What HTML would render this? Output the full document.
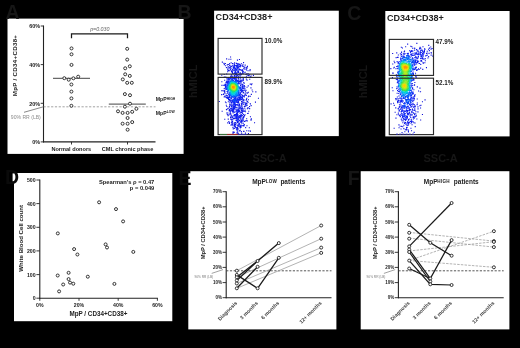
<!DOCTYPE html>
<html lang="en"><head><meta charset="utf-8"><title>Figure</title>
<style>
html,body{margin:0;padding:0;background:#000;}
body{width:520px;height:348px;overflow:hidden;}
svg{display:block;font-family:"Liberation Sans", Arial, sans-serif;filter:blur(0.4px);}
</style></head><body>
<svg width="520" height="348" viewBox="0 0 520 348">
<rect width="520" height="348" fill="#000"/>

<rect x="7.5" y="18.6" width="176.1" height="135.3" fill="#fff"/>
<rect x="214.1" y="10.7" width="124.7" height="125.4" fill="#fff"/>
<rect x="385.3" y="11" width="124.3" height="125.4" fill="#fff"/>
<rect x="14" y="173" width="158.3" height="148.2" fill="#fff"/>
<rect x="188.3" y="171.2" width="148.1" height="158.2" fill="#fff"/>
<rect x="360.7" y="171.2" width="148.7" height="158.2" fill="#fff"/>
<rect x="12.6" y="173.4" width="2" height="8" fill="#fff"/>
<text x="5.6" y="18.8" font-size="19.5" font-weight="bold" text-anchor="start" fill="#161616" >A</text>
<text x="177.5" y="19.3" font-size="19.5" font-weight="bold" text-anchor="start" fill="#161616" >B</text>
<text x="347.3" y="19.6" font-size="19.5" font-weight="bold" text-anchor="start" fill="#161616" >C</text>
<text x="4.9" y="183.9" font-size="19.5" font-weight="bold" text-anchor="start" fill="#0a0a0a" >D</text>
<text x="178.4" y="185.0" font-size="19.5" font-weight="bold" text-anchor="start" fill="#0a0a0a" >E</text>
<text x="347.8" y="184.6" font-size="19.5" font-weight="bold" text-anchor="start" fill="#161616" >F</text>
<g id="pa">
<line x1="43.5" y1="25.5" x2="43.5" y2="142.4" stroke="#222" stroke-width="1.1" />
<line x1="43.0" y1="141.9" x2="155.5" y2="141.9" stroke="#222" stroke-width="1.1" />
<line x1="40.7" y1="141.9" x2="43.5" y2="141.9" stroke="#222" stroke-width="0.9" />
<text x="40.1" y="144.1" font-size="5.4" font-weight="bold" text-anchor="end" fill="#222" >0%</text>
<line x1="40.7" y1="103.3" x2="43.5" y2="103.3" stroke="#222" stroke-width="0.9" />
<text x="40.1" y="105.5" font-size="5.4" font-weight="bold" text-anchor="end" fill="#222" >20%</text>
<line x1="40.7" y1="64.6" x2="43.5" y2="64.6" stroke="#222" stroke-width="0.9" />
<text x="40.1" y="66.8" font-size="5.4" font-weight="bold" text-anchor="end" fill="#222" >40%</text>
<line x1="40.7" y1="26.0" x2="43.5" y2="26.0" stroke="#222" stroke-width="0.9" />
<text x="40.1" y="28.2" font-size="5.4" font-weight="bold" text-anchor="end" fill="#222" >60%</text>
<line x1="71.5" y1="141.9" x2="71.5" y2="144.5" stroke="#222" stroke-width="0.9" />
<line x1="127.5" y1="141.9" x2="127.5" y2="144.5" stroke="#222" stroke-width="0.9" />
<text x="71.3" y="150.6" font-size="5.6" font-weight="bold" text-anchor="middle" fill="#222" >Normal donors</text>
<text x="127.5" y="150.6" font-size="5.6" font-weight="bold" text-anchor="middle" fill="#222" >CML chronic phase</text>
<text transform="translate(17.2,65.5) rotate(-90)" font-size="6.1" font-weight="bold" text-anchor="middle" fill="#222" letter-spacing="0.34">MpP / CD34+CD38+</text>
<line x1="43.5" y1="106.8" x2="155.5" y2="106.8" stroke="#8a8a8a" stroke-width="0.8" stroke-dasharray="2.2 1.6"/>
<text x="10.8" y="119.2" font-size="5.1" font-weight="normal" text-anchor="start" fill="#8c8c8c" >90% RR (LB)</text>
<line x1="24.0" y1="112.3" x2="43.0" y2="106.9" stroke="#555" stroke-width="0.7" />
<path d="M71.5 38.3V33.9H127.5V38.3" fill="none" stroke="#1a1a1a" stroke-width="1.25"/>
<text x="99.8" y="31.3" font-size="5.3" font-weight="normal" text-anchor="middle" fill="#666" font-style="italic">p=0.030</text>
<line x1="53.0" y1="78.3" x2="90.0" y2="78.3" stroke="#444" stroke-width="1" />
<line x1="108.8" y1="104.1" x2="145.8" y2="104.1" stroke="#444" stroke-width="1" />
<circle cx="71.5" cy="48.4" r="1.5" fill="#fff" stroke="#2a2a2a" stroke-width="0.95"/>
<circle cx="71.5" cy="54.3" r="1.5" fill="#fff" stroke="#2a2a2a" stroke-width="0.95"/>
<circle cx="71.5" cy="64.9" r="1.5" fill="#fff" stroke="#2a2a2a" stroke-width="0.95"/>
<circle cx="64.3" cy="78.2" r="1.5" fill="#fff" stroke="#2a2a2a" stroke-width="0.95"/>
<circle cx="68.7" cy="79.7" r="1.5" fill="#fff" stroke="#2a2a2a" stroke-width="0.95"/>
<circle cx="73.4" cy="78.3" r="1.5" fill="#fff" stroke="#2a2a2a" stroke-width="0.95"/>
<circle cx="78.2" cy="76.7" r="1.5" fill="#fff" stroke="#2a2a2a" stroke-width="0.95"/>
<circle cx="71.4" cy="84.5" r="1.5" fill="#fff" stroke="#2a2a2a" stroke-width="0.95"/>
<circle cx="71.4" cy="91.6" r="1.5" fill="#fff" stroke="#2a2a2a" stroke-width="0.95"/>
<circle cx="71.4" cy="98.4" r="1.5" fill="#fff" stroke="#2a2a2a" stroke-width="0.95"/>
<circle cx="71.4" cy="105.8" r="1.5" fill="#fff" stroke="#2a2a2a" stroke-width="0.95"/>
<circle cx="127.2" cy="48.8" r="1.5" fill="#fff" stroke="#2a2a2a" stroke-width="0.95"/>
<circle cx="127.2" cy="59.6" r="1.5" fill="#fff" stroke="#2a2a2a" stroke-width="0.95"/>
<circle cx="129.8" cy="66.3" r="1.5" fill="#fff" stroke="#2a2a2a" stroke-width="0.95"/>
<circle cx="125.2" cy="68.3" r="1.5" fill="#fff" stroke="#2a2a2a" stroke-width="0.95"/>
<circle cx="125.2" cy="74.3" r="1.5" fill="#fff" stroke="#2a2a2a" stroke-width="0.95"/>
<circle cx="129.8" cy="75.9" r="1.5" fill="#fff" stroke="#2a2a2a" stroke-width="0.95"/>
<circle cx="122.8" cy="79.4" r="1.5" fill="#fff" stroke="#2a2a2a" stroke-width="0.95"/>
<circle cx="127.2" cy="82.8" r="1.5" fill="#fff" stroke="#2a2a2a" stroke-width="0.95"/>
<circle cx="131.8" cy="82.8" r="1.5" fill="#fff" stroke="#2a2a2a" stroke-width="0.95"/>
<circle cx="124.9" cy="94.1" r="1.5" fill="#fff" stroke="#2a2a2a" stroke-width="0.95"/>
<circle cx="130.0" cy="95.2" r="1.5" fill="#fff" stroke="#2a2a2a" stroke-width="0.95"/>
<circle cx="130.0" cy="103.7" r="1.5" fill="#fff" stroke="#2a2a2a" stroke-width="0.95"/>
<circle cx="124.9" cy="106.7" r="1.5" fill="#fff" stroke="#2a2a2a" stroke-width="0.95"/>
<circle cx="136.4" cy="108.8" r="1.5" fill="#fff" stroke="#2a2a2a" stroke-width="0.95"/>
<circle cx="118.0" cy="111.3" r="1.5" fill="#fff" stroke="#2a2a2a" stroke-width="0.95"/>
<circle cx="122.6" cy="112.9" r="1.5" fill="#fff" stroke="#2a2a2a" stroke-width="0.95"/>
<circle cx="127.6" cy="112.9" r="1.5" fill="#fff" stroke="#2a2a2a" stroke-width="0.95"/>
<circle cx="132.2" cy="111.8" r="1.5" fill="#fff" stroke="#2a2a2a" stroke-width="0.95"/>
<circle cx="127.6" cy="118.0" r="1.5" fill="#fff" stroke="#2a2a2a" stroke-width="0.95"/>
<circle cx="122.6" cy="123.7" r="1.5" fill="#fff" stroke="#2a2a2a" stroke-width="0.95"/>
<circle cx="127.6" cy="123.7" r="1.5" fill="#fff" stroke="#2a2a2a" stroke-width="0.95"/>
<circle cx="132.2" cy="122.1" r="1.5" fill="#fff" stroke="#2a2a2a" stroke-width="0.95"/>
<circle cx="127.6" cy="129.7" r="1.5" fill="#fff" stroke="#2a2a2a" stroke-width="0.95"/>
<text x="155.8" y="101.2" font-size="5.2" font-weight="bold" fill="#222">MpP<tspan font-size="3.4" dy="-1.6">HIGH</tspan></text>
<text x="155.8" y="115" font-size="5.2" font-weight="bold" fill="#222">MpP<tspan font-size="3.4" dy="-1.6">LOW</tspan></text>
</g>
<g id="pb">
<text x="215.6" y="20.3" font-size="9.05" font-weight="bold" text-anchor="start" fill="#222" >CD34+CD38+</text>
<path d="M257.9 98.3h1.1M254.9 102.1h1.1M221.6 111.2h1.1M254.0 122.8h1.1M224.2 119.2h1.1M255.3 91.9h1.1M248.8 127.8h1.1M221.3 81.7h1.1M226.1 58.9h1.1M252.9 75.4h1.1M221.2 75.2h1.1M238.9 59.5h1.1M250.8 94.4h1.1M249.2 79.2h1.1M249.9 116.8h1.1M250.4 87.9h1.1M218.8 101.5h1.1M236.9 60.1h1.1M247.9 133.5h1.1M226.1 74.0h1.1M252.2 91.7h1.1M230.0 57.0h1.1M244.9 133.1h1.1M221.8 62.1h1.1M227.7 119.1h1.1M251.6 90.0h1.1M246.4 125.8h1.1M223.7 74.5h1.1M249.9 131.1h1.1M228.4 59.3h1.1M230.3 59.2h1.1" stroke="rgb(15,15,215)" stroke-width="1.1" fill="none"/>
<path d="M243.0 62.6h1.1M221.4 85.4h1.1M247.7 85.9h1.1M246.2 130.8h1.1M221.1 94.6h1.1M248.2 111.2h1.1M241.1 133.3h1.1M245.1 127.6h1.1M221.1 90.7h1.1M248.3 130.9h1.1M246.1 118.7h1.1M224.9 102.0h1.1M247.1 113.5h1.1M246.5 80.1h1.1M246.7 120.9h1.1M227.2 122.9h1.1M225.6 102.8h1.1M249.6 69.6h1.1M225.8 105.2h1.1M247.7 113.2h1.1M230.6 62.8h1.1M250.6 105.6h1.1M249.4 70.7h1.1M246.5 87.2h1.1M223.8 77.1h1.1M249.6 96.4h1.1M225.9 109.6h1.1M226.2 113.0h1.1M224.1 80.2h1.1M247.5 70.8h1.1M250.5 120.1h1.1M223.4 63.4h1.1M250.7 76.0h1.1M249.7 76.9h1.1M227.5 115.6h1.1M251.4 83.7h1.1M243.4 131.4h1.1M226.3 106.5h1.1M240.8 131.6h1.1M245.8 79.0h1.1M247.8 92.3h1.1M243.0 131.3h1.1M244.6 65.1h1.1M246.7 77.5h1.1M249.9 103.9h1.1M247.9 99.8h1.1M224.8 63.5h1.1M249.7 103.8h1.1M232.7 128.9h1.1M223.8 64.6h1.1M250.8 118.9h1.1M250.4 119.8h1.1M225.0 65.8h1.1M251.0 84.8h1.1M243.7 83.1h1.1M246.9 66.4h1.1M226.8 114.5h1.1M232.3 133.1h1.1M249.7 84.1h1.1M249.1 108.6h1.1M249.0 106.5h1.1M232.6 131.7h1.1M229.1 63.6h1.1M232.8 132.9h1.1M233.9 132.2h1.1M247.8 96.8h1.1M248.1 96.1h1.1M246.8 108.7h1.1M245.4 74.4h1.1M246.0 76.2h1.1M228.3 121.6h1.1M246.3 98.2h1.1M228.9 123.4h1.1M249.8 84.0h1.1M227.1 71.8h1.1M247.3 92.8h1.1M244.5 114.7h1.1M244.7 72.2h1.1M246.0 69.9h1.1M245.5 120.6h1.1M234.1 62.9h1.1M244.6 77.4h1.1M242.4 64.9h1.1M249.1 74.9h1.1M231.9 63.6h1.1M222.3 90.8h1.1M238.0 133.3h1.1M248.2 108.0h1.1M226.8 109.0h1.1M227.3 113.0h1.1M241.0 63.7h1.1M247.3 107.7h1.1M223.7 96.9h1.1M244.3 121.4h1.1M223.1 94.5h1.1M222.8 94.5h1.1M245.4 90.4h1.1M246.4 73.9h1.1M236.8 134.0h1.1M230.5 125.1h1.1M247.7 73.9h1.1M236.5 132.9h1.1M243.0 82.8h1.1M228.5 114.6h1.1M225.9 67.5h1.1M248.1 75.6h1.1M229.1 122.7h1.1M246.2 68.4h1.1M247.4 75.5h1.1M227.6 108.4h1.1M226.8 64.9h1.1M246.6 67.7h1.1M232.4 127.4h1.1M247.6 102.2h1.1M223.7 88.5h1.1M239.7 130.3h1.1M245.0 111.7h1.1M244.3 108.2h1.1M246.7 93.3h1.1M227.8 64.5h1.1M225.2 77.0h1.1M243.7 121.5h1.1M227.8 101.8h1.1M236.8 132.1h1.1M243.2 66.5h1.1M245.8 95.4h1.1M245.0 91.3h1.1M241.9 66.1h1.1M229.0 104.3h1.1M223.5 93.5h1.1M239.2 130.7h1.1M233.8 128.4h1.1M245.4 92.7h1.1M246.7 105.2h1.1M238.5 131.0h1.1M223.7 90.3h1.1M244.5 69.1h1.1M245.5 67.4h1.1M243.8 106.6h1.1M225.4 93.8h1.1M230.1 119.1h1.1M246.9 101.4h1.1M229.1 65.4h1.1M245.9 99.4h1.1M224.2 92.5h1.1M244.0 115.6h1.1M226.3 67.7h1.1M243.7 67.4h1.1M227.1 70.0h1.1M230.9 74.8h1.1M230.2 113.7h1.1M236.8 130.7h1.1M233.4 63.7h1.1M244.8 106.2h1.1M230.3 114.6h1.1M229.5 113.4h1.1M223.7 91.4h1.1M242.3 77.2h1.1M229.0 106.2h1.1M245.6 100.2h1.1M245.7 100.3h1.1M242.8 123.3h1.1M244.5 93.8h1.1M246.3 102.0h1.1M243.4 68.8h1.1M235.9 129.8h1.1M245.8 105.7h1.1M224.4 96.1h1.1M243.1 68.8h1.1M228.8 107.1h1.1M224.3 91.1h1.1M230.0 117.4h1.1M243.1 92.4h1.1M230.6 119.1h1.1M228.1 70.6h1.1M227.9 70.6h1.1M242.7 92.9h1.1M242.2 80.9h1.1M231.1 119.9h1.1M228.8 70.8h1.1M236.0 63.4h1.1M240.3 77.4h1.1M243.7 124.5h1.1" stroke="rgb(15,20,222)" stroke-width="1.1" fill="none"/>
<path d="M237.9 129.0h1.1M242.9 80.3h1.1M246.3 103.6h1.1M227.6 66.7h1.1M244.4 88.9h1.1M244.9 94.7h1.1M228.6 110.7h1.1M236.7 129.5h1.1M242.5 77.8h1.1M243.6 72.7h1.1M243.0 114.6h1.1M243.2 126.0h1.1M229.6 105.5h1.1M227.3 69.2h1.1M244.6 110.1h1.1M244.6 110.2h1.1M242.7 78.0h1.1M244.3 95.0h1.1M244.4 95.1h1.1M243.7 111.5h1.1M227.5 68.7h1.1M232.4 119.8h1.1M239.9 77.2h1.1M226.0 77.7h1.1M243.3 100.9h1.1M243.3 99.6h1.1M243.8 90.2h1.1M242.6 73.8h1.1M230.3 66.1h1.1M229.3 102.7h1.1M243.5 116.9h1.1M244.3 86.7h1.1M242.7 78.6h1.1M231.7 119.9h1.1M244.7 105.3h1.1M243.7 96.9h1.1M231.4 121.6h1.1M232.0 121.5h1.1M230.4 116.3h1.1M240.1 78.8h1.1M244.1 102.7h1.1M231.1 122.5h1.1M226.1 95.2h1.1M245.7 104.1h1.1M229.8 69.6h1.1M242.8 120.0h1.1M227.8 66.9h1.1M235.7 63.8h1.1M229.8 112.3h1.1M231.5 124.7h1.1M245.1 103.0h1.1M232.1 73.5h1.1M225.5 95.8h1.1M242.7 100.8h1.1M231.3 75.8h1.1M245.5 103.5h1.1M243.5 125.7h1.1M242.4 79.9h1.1M242.7 79.4h1.1M241.3 123.3h1.1M241.4 123.1h1.1M243.6 95.9h1.1M243.8 85.5h1.1M232.6 113.0h1.1M244.7 104.2h1.1M241.0 101.5h1.1M229.0 67.9h1.1M242.8 118.2h1.1M243.5 125.3h1.1M230.3 76.0h1.1M231.3 124.4h1.1M239.5 64.3h1.1M228.8 67.7h1.1M229.5 67.0h1.1M231.2 71.9h1.1M230.5 68.8h1.1M240.7 74.8h1.1M240.9 74.4h1.1M240.3 69.7h1.1M234.6 122.8h1.1M231.5 123.4h1.1M241.5 101.8h1.1M242.7 102.6h1.1M223.3 85.4h1.1M236.9 128.4h1.1M231.7 122.5h1.1M234.7 127.8h1.1M241.7 101.0h1.1M231.9 65.7h1.1M242.4 120.7h1.1M230.8 66.5h1.1M243.1 125.5h1.1M242.9 125.6h1.1M230.2 67.9h1.1M243.7 88.0h1.1M228.8 109.6h1.1M242.1 113.6h1.1M242.9 117.1h1.1M243.2 116.6h1.1M242.5 119.9h1.1M242.0 69.7h1.1M229.5 111.2h1.1M239.4 69.6h1.1M231.2 115.6h1.1M230.8 76.2h1.1M231.0 71.4h1.1M239.7 127.9h1.1M232.8 118.5h1.1M243.0 104.2h1.1M243.0 104.2h1.1M230.3 104.4h1.1M240.5 70.1h1.1M231.9 72.8h1.1M235.2 122.6h1.1M239.5 75.8h1.1M230.7 70.8h1.1M243.0 71.2h1.1M242.8 71.2h1.1M235.6 123.3h1.1M231.9 124.0h1.1M240.5 65.8h1.1M238.2 63.8h1.1M242.1 73.4h1.1M236.6 125.1h1.1M231.6 71.6h1.1M236.0 128.3h1.1M231.2 117.2h1.1M242.1 125.8h1.1M233.7 122.9h1.1M233.8 64.6h1.1M242.4 84.7h1.1M225.3 97.1h1.1M238.2 76.2h1.1M232.3 125.2h1.1M234.3 112.2h1.1M231.9 72.2h1.1M236.4 128.0h1.1M241.1 70.3h1.1M233.5 76.3h1.1M228.0 99.6h1.1M235.5 127.6h1.1M229.5 110.5h1.1M236.2 107.5h1.1M236.5 107.8h1.1M239.5 75.2h1.1M228.7 100.0h1.1M236.9 63.8h1.1M236.8 127.6h1.1M242.2 72.1h1.1M242.1 72.7h1.1M237.3 127.0h1.1M243.3 110.8h1.1M238.0 77.2h1.1M240.8 103.3h1.1M243.1 90.7h1.1M241.0 125.3h1.1M240.3 83.3h1.1M240.5 82.9h1.1M237.7 77.4h1.1M240.6 122.4h1.1M233.6 112.1h1.1M241.5 106.3h1.1M225.0 89.0h1.1M233.9 75.5h1.1M229.4 101.2h1.1M229.3 109.7h1.1M242.0 118.3h1.1M242.0 118.1h1.1M241.5 121.5h1.1M238.2 78.4h1.1M238.0 74.6h1.1M241.4 119.9h1.1M242.4 108.6h1.1M241.6 103.1h1.1M231.7 117.3h1.1M240.4 84.7h1.1M231.8 117.7h1.1M240.6 73.9h1.1M239.4 113.2h1.1M240.6 126.9h1.1M240.6 127.1h1.1M240.3 127.3h1.1M241.7 84.4h1.1M239.3 74.5h1.1M232.7 73.7h1.1M241.8 107.8h1.1M232.6 70.6h1.1M231.8 76.9h1.1M237.3 77.8h1.1M241.7 71.0h1.1M241.9 70.5h1.1M241.8 70.5h1.1M241.2 105.1h1.1M241.3 104.9h1.1M242.3 99.0h1.1M240.7 80.7h1.1M235.0 124.4h1.1M241.0 81.1h1.1M235.5 109.4h1.1M241.8 115.6h1.1M239.5 73.1h1.1M239.6 72.9h1.1M229.7 108.9h1.1M226.5 78.3h1.1M234.5 126.5h1.1M239.8 73.1h1.1M226.7 95.6h1.1M225.9 97.8h1.1M226.2 97.6h1.1M240.5 80.1h1.1M231.9 69.9h1.1M238.1 78.8h1.1M234.1 76.8h1.1M239.3 73.9h1.1M235.7 76.8h1.1M229.0 100.3h1.1M234.9 126.1h1.1M242.2 111.5h1.1M239.7 66.8h1.1M237.6 125.8h1.1M232.1 116.9h1.1M241.7 112.2h1.1M237.0 122.5h1.1M237.5 125.2h1.1M230.6 111.0h1.1M238.5 69.9h1.1M243.2 110.9h1.1M236.4 76.2h1.1M226.5 91.5h1.1M227.3 93.4h1.1M233.4 124.0h1.1M241.5 104.0h1.1M241.9 108.3h1.1M241.2 104.1h1.1M237.8 126.3h1.1M239.8 65.4h1.1M232.2 69.2h1.1M240.3 118.6h1.1M239.9 112.8h1.1M231.2 105.7h1.1M240.8 112.5h1.1M241.2 112.6h1.1M241.0 104.8h1.1M225.5 82.4h1.1M233.9 124.2h1.1M235.4 111.3h1.1M243.3 86.3h1.1M243.7 86.1h1.1M239.7 100.0h1.1M242.6 96.1h1.1M230.7 102.0h1.1M239.8 122.0h1.1M235.5 120.3h1.1M232.5 117.0h1.1M235.5 76.4h1.1M233.8 126.2h1.1M242.4 109.5h1.1M239.0 104.1h1.1M238.9 104.1h1.1M224.2 85.0h1.1M233.7 125.8h1.1M239.7 125.2h1.1M229.1 99.6h1.1M240.2 126.6h1.1M240.4 126.8h1.1M242.8 88.7h1.1M230.4 108.3h1.1M231.6 104.3h1.1M241.9 95.4h1.1M237.3 122.7h1.1M240.6 120.2h1.1M233.7 118.2h1.1M232.6 66.2h1.1M239.0 123.9h1.1M240.9 121.1h1.1M236.8 75.4h1.1M240.0 85.4h1.1M238.1 123.0h1.1M239.3 105.6h1.1M239.2 126.6h1.1M238.7 64.8h1.1M240.2 121.8h1.1M238.6 123.3h1.1M237.9 72.4h1.1M227.0 92.0h1.1M242.1 111.6h1.1M238.8 105.1h1.1M234.3 118.6h1.1M229.9 100.9h1.1M229.5 99.6h1.1M238.5 68.8h1.1M238.0 71.5h1.1M238.0 71.7h1.1M239.0 124.2h1.1M230.9 102.6h1.1M241.4 115.5h1.1M234.2 125.8h1.1M234.0 125.5h1.1M234.1 125.4h1.1M240.7 114.5h1.1" stroke="rgb(15,25,230)" stroke-width="1.1" fill="none"/>
<path d="M238.6 106.6h1.1M230.9 106.5h1.1M230.8 106.6h1.1M230.0 76.9h1.1M239.6 119.2h1.1M235.8 120.6h1.1M236.0 120.7h1.1M224.8 87.9h1.1M240.6 121.2h1.1M235.2 107.4h1.1M238.2 124.4h1.1M226.1 81.6h1.1M241.8 99.2h1.1M242.8 88.3h1.1M238.3 79.9h1.1M231.9 111.8h1.1M232.0 111.7h1.1M233.7 73.4h1.1M237.7 105.7h1.1M237.5 105.6h1.1M232.6 111.6h1.1M232.5 111.9h1.1M240.5 106.7h1.1M240.5 106.6h1.1M233.1 111.1h1.1M241.0 99.5h1.1M227.1 98.4h1.1M226.2 97.8h1.1M241.0 94.8h1.1M238.4 124.5h1.1M238.2 125.2h1.1M239.6 125.6h1.1M234.3 108.7h1.1M233.5 65.5h1.1M236.7 109.3h1.1M235.8 110.7h1.1M239.2 120.6h1.1M233.6 69.9h1.1M236.8 121.4h1.1M233.5 109.7h1.1M242.2 110.4h1.1M231.4 105.6h1.1M240.3 99.6h1.1M231.3 102.9h1.1M238.4 107.5h1.1M239.7 80.9h1.1M239.9 80.9h1.1M226.6 79.9h1.1M235.8 111.0h1.1M234.2 114.6h1.1M239.2 66.5h1.1M239.3 66.6h1.1M233.6 115.1h1.1M234.4 118.1h1.1M226.7 80.3h1.1M226.5 80.2h1.1M238.9 100.3h1.1M238.7 120.6h1.1M237.7 104.8h1.1M234.1 70.9h1.1M236.6 105.0h1.1M236.2 105.0h1.1M237.5 121.5h1.1M241.1 111.1h1.1M230.9 108.3h1.1M238.5 108.0h1.1M241.0 110.2h1.1M240.9 110.6h1.1M239.5 111.8h1.1M240.2 115.1h1.1M242.4 85.9h1.1M236.0 113.3h1.1M240.8 109.0h1.1M239.3 83.0h1.1M240.7 115.5h1.1M228.1 77.5h1.1M237.3 114.2h1.1M224.8 84.1h1.1M240.4 109.7h1.1M239.5 66.3h1.1M231.0 110.1h1.1M241.1 108.5h1.1M234.6 65.6h1.1M234.6 65.8h1.1M227.2 97.7h1.1M227.8 98.0h1.1M228.0 98.4h1.1M237.2 104.8h1.1M237.9 102.8h1.1M238.1 102.6h1.1M240.2 81.8h1.1M240.4 107.7h1.1M231.5 110.4h1.1M238.5 108.8h1.1M233.6 115.7h1.1M233.3 115.6h1.1M233.4 115.6h1.1M236.0 75.0h1.1M239.7 107.7h1.1M227.0 97.0h1.1M241.7 91.6h1.1M237.9 102.2h1.1M237.8 121.0h1.1M237.8 121.2h1.1M240.7 116.4h1.1M236.4 104.5h1.1M231.0 100.3h1.1M236.8 113.3h1.1M240.4 108.1h1.1M235.4 75.1h1.1M226.1 82.7h1.1M239.4 108.2h1.1M232.4 77.7h1.1M237.2 120.9h1.1M235.9 113.5h1.1M232.0 110.9h1.1M241.9 85.7h1.1M237.8 109.0h1.1M232.5 110.1h1.1M238.0 101.5h1.1M236.8 112.9h1.1M227.6 97.5h1.1M230.7 98.8h1.1M236.4 110.5h1.1M234.0 114.9h1.1M237.4 70.4h1.1M237.3 114.8h1.1M239.1 99.8h1.1M224.4 85.4h1.1M236.4 111.9h1.1M238.4 99.9h1.1M240.5 117.3h1.1M240.5 117.1h1.1M232.6 67.7h1.1M228.0 97.5h1.1M229.0 97.7h1.1M237.5 103.2h1.1M239.3 117.6h1.1M242.0 90.8h1.1M224.6 85.4h1.1M236.4 120.0h1.1M234.8 118.3h1.1M235.0 105.9h1.1M237.6 112.1h1.1M237.2 72.8h1.1M237.2 72.7h1.1M238.5 111.6h1.1M236.8 112.2h1.1M237.5 70.1h1.1M235.1 114.5h1.1M231.6 109.2h1.1M233.9 115.6h1.1M241.8 98.1h1.1M237.3 64.5h1.1M237.6 64.4h1.1M231.3 108.8h1.1M239.0 111.0h1.1M238.9 111.3h1.1M233.1 66.7h1.1M236.2 78.9h1.1M237.2 71.5h1.1M232.8 109.1h1.1M237.5 102.9h1.1M239.1 66.5h1.1M238.7 83.8h1.1M231.3 102.3h1.1M242.1 90.3h1.1M230.3 98.2h1.1M236.3 114.1h1.1M238.7 110.3h1.1M236.5 74.2h1.1M239.0 99.1h1.1M237.7 119.5h1.1M237.8 119.4h1.1M238.3 109.5h1.1M238.4 97.9h1.1M239.5 81.3h1.1M240.0 117.0h1.1M235.6 104.7h1.1M234.5 66.0h1.1M234.2 108.1h1.1M234.1 108.4h1.1M239.2 115.5h1.1M239.5 115.7h1.1M234.3 106.1h1.1M241.9 96.9h1.1M235.4 114.9h1.1M238.4 117.6h1.1M233.6 69.3h1.1M238.0 118.8h1.1M242.4 87.4h1.1M225.5 84.3h1.1M228.4 96.3h1.1M235.8 65.5h1.1M241.0 91.5h1.1M241.2 91.9h1.1M234.4 116.2h1.1M237.3 68.4h1.1M237.2 97.9h1.1M240.2 95.1h1.1M237.7 110.4h1.1M237.6 110.3h1.1M232.7 105.7h1.1M237.9 99.3h1.1M235.3 78.8h1.1M235.5 78.7h1.1M235.5 74.6h1.1M237.7 67.4h1.1M232.8 78.1h1.1M231.7 101.5h1.1M239.7 116.7h1.1M241.9 88.3h1.1M231.1 98.2h1.1M241.5 86.1h1.1M241.5 86.1h1.1M238.3 117.1h1.1M235.6 118.3h1.1M225.0 86.5h1.1M238.5 110.7h1.1M233.8 107.6h1.1M237.5 115.8h1.1M239.1 115.9h1.1M239.7 98.4h1.1M225.8 89.4h1.1M238.2 111.1h1.1M237.4 111.0h1.1M239.4 116.2h1.1M233.0 68.3h1.1M229.3 97.3h1.1M236.5 119.3h1.1M238.2 116.7h1.1M235.0 70.7h1.1M237.3 118.7h1.1M236.1 118.7h1.1M234.9 116.0h1.1M235.1 71.8h1.1M236.3 102.5h1.1M236.6 72.8h1.1M234.8 104.5h1.1M233.0 67.5h1.1M233.9 106.5h1.1M236.3 115.0h1.1M237.5 116.1h1.1M225.2 85.1h1.1M241.8 86.5h1.1M242.1 86.5h1.1M241.6 96.7h1.1M237.4 117.1h1.1M237.1 102.1h1.1M234.6 73.5h1.1M239.0 97.0h1.1M233.9 66.7h1.1M234.4 105.1h1.1M235.4 117.4h1.1M234.3 72.9h1.1M234.5 72.6h1.1M226.6 82.8h1.1M236.0 66.7h1.1M233.0 105.7h1.1M236.6 65.8h1.1M237.5 65.2h1.1M237.5 65.3h1.1M236.2 118.8h1.1M237.6 100.6h1.1M241.4 90.8h1.1M224.9 86.3h1.1M224.8 86.0h1.1M228.2 78.0h1.1M227.8 78.2h1.1M238.2 96.7h1.1M234.8 74.3h1.1M237.2 99.5h1.1M241.4 98.1h1.1M241.3 98.2h1.1M234.1 78.4h1.1M234.2 78.9h1.1M239.9 93.1h1.1M225.2 87.5h1.1M238.0 67.1h1.1M238.5 66.3h1.1M240.2 92.8h1.1M236.5 115.4h1.1M236.3 115.8h1.1M232.5 108.3h1.1M232.6 108.1h1.1M234.7 73.3h1.1M232.7 106.1h1.1M233.4 78.7h1.1M233.3 78.7h1.1M241.5 86.8h1.1M236.5 118.4h1.1M231.7 78.3h1.1M233.1 108.1h1.1M235.3 70.8h1.1M229.1 96.2h1.1M236.8 99.3h1.1M233.1 104.2h1.1M232.6 107.1h1.1M232.3 107.1h1.1M236.1 116.1h1.1M236.4 98.6h1.1M236.1 117.3h1.1M232.2 100.0h1.1M235.9 116.7h1.1M227.5 78.7h1.1M227.6 78.8h1.1M236.8 67.6h1.1M236.8 67.8h1.1M236.4 68.0h1.1M236.3 117.1h1.1M236.8 101.8h1.1M226.9 81.7h1.1M239.5 97.7h1.1M236.6 66.1h1.1M233.7 107.2h1.1M228.3 94.7h1.1M235.8 73.5h1.1M233.3 68.0h1.1M235.2 72.2h1.1M235.6 79.1h1.1M239.0 81.6h1.1M240.2 94.9h1.1M241.5 88.8h1.1" stroke="rgb(15,30,237)" stroke-width="1.1" fill="none"/>
<path d="M235.1 68.1h1.1M235.6 70.1h1.1M235.3 70.2h1.1M233.8 67.3h1.1M234.8 69.3h1.1M236.8 65.4h1.1M227.4 91.8h1.1M233.0 107.4h1.1M233.7 104.4h1.1M233.3 104.9h1.1M241.7 87.5h1.1M236.3 69.0h1.1M236.5 69.2h1.1M236.2 69.8h1.1M236.3 69.5h1.1M234.7 78.9h1.1M237.0 99.6h1.1M236.1 70.1h1.1M235.1 73.9h1.1M235.1 73.6h1.1M233.9 78.9h1.1M233.8 104.7h1.1M235.3 69.4h1.1M234.1 68.0h1.1M233.9 68.2h1.1M231.8 100.6h1.1M232.6 99.6h1.1M233.9 67.8h1.1M233.8 67.7h1.1M226.7 83.9h1.1M240.2 98.3h1.1M227.0 82.4h1.1M225.4 85.3h1.1M236.7 66.9h1.1M236.7 100.5h1.1M235.6 73.8h1.1M231.7 101.0h1.1M237.7 80.6h1.1M228.3 94.4h1.1M237.5 66.0h1.1M237.3 66.2h1.1M239.9 96.5h1.1M235.4 72.9h1.1M241.1 90.8h1.1M240.1 97.3h1.1M239.2 95.6h1.1M240.9 97.1h1.1M241.0 97.5h1.1M240.7 97.8h1.1M240.8 97.5h1.1M234.4 103.7h1.1M235.8 79.9h1.1M225.4 85.5h1.1M226.1 88.5h1.1M240.2 97.3h1.1M239.4 95.1h1.1M233.3 103.4h1.1M233.3 103.7h1.1M232.3 102.2h1.1M230.4 97.1h1.1M233.4 98.2h1.1M227.5 81.6h1.1M239.7 93.0h1.1M239.6 92.9h1.1M235.4 101.9h1.1M235.2 98.8h1.1M235.8 101.9h1.1M239.7 93.7h1.1M228.9 95.1h1.1M234.3 103.3h1.1M234.6 103.2h1.1M241.1 89.4h1.1M240.7 90.6h1.1M233.6 103.2h1.1M234.1 98.1h1.1M230.9 78.8h1.1M232.4 101.6h1.1M228.2 80.0h1.1M228.5 78.8h1.1M227.9 79.1h1.1M233.9 98.6h1.1M236.2 99.8h1.1M239.0 95.0h1.1M234.7 98.6h1.1M231.9 79.0h1.1M234.8 97.4h1.1M239.5 91.0h1.1M240.0 90.8h1.1M229.2 95.7h1.1M236.2 80.4h1.1M230.2 78.7h1.1M229.8 78.8h1.1M229.7 78.4h1.1M229.4 78.7h1.1M229.7 78.8h1.1M225.9 86.3h1.1M239.9 87.1h1.1M233.2 102.7h1.1M233.4 102.5h1.1M228.2 81.9h1.1M236.0 100.7h1.1M227.4 82.5h1.1M235.2 97.3h1.1M235.7 97.1h1.1M226.9 84.1h1.1M227.1 84.1h1.1M238.8 94.4h1.1M238.8 94.5h1.1M237.2 80.9h1.1M237.0 80.6h1.1M240.5 89.8h1.1M240.5 89.6h1.1M233.9 99.0h1.1M234.8 99.4h1.1M228.6 79.1h1.1M237.8 81.5h1.1M237.9 81.9h1.1M237.8 81.6h1.1M228.3 80.1h1.1M238.3 95.1h1.1M233.3 99.8h1.1M228.6 79.7h1.1M228.5 79.7h1.1M240.2 90.4h1.1M231.2 97.0h1.1M231.5 97.2h1.1M231.5 97.2h1.1M234.9 97.1h1.1M232.7 80.3h1.1M227.6 83.1h1.1M237.9 82.3h1.1M237.7 82.4h1.1M228.5 81.1h1.1M228.4 81.4h1.1M235.6 101.2h1.1M229.0 79.1h1.1M234.3 102.2h1.1M236.3 80.7h1.1M230.9 79.0h1.1M238.1 83.6h1.1M237.8 83.5h1.1M235.0 80.4h1.1M233.2 97.4h1.1M235.2 100.1h1.1M232.1 79.8h1.1M233.1 101.1h1.1M235.5 80.9h1.1M240.1 87.9h1.1M235.8 80.8h1.1M230.6 79.1h1.1" stroke="rgb(15,35,245)" stroke-width="1.1" fill="none"/>
<path d="M235.3 100.4h1.1M229.1 94.1h1.1M233.8 99.5h1.1M237.4 95.8h1.1M228.6 92.2h1.1M228.7 92.2h1.1M240.1 89.1h1.1M239.9 89.2h1.1M238.1 95.2h1.1M240.0 87.9h1.1M227.0 85.2h1.1M230.9 96.9h1.1M239.9 88.6h1.1M234.4 101.7h1.1M231.6 79.8h1.1M236.6 96.2h1.1M238.5 93.9h1.1M238.5 92.5h1.1M226.5 86.7h1.1M236.4 81.4h1.1M238.3 93.7h1.1M233.7 100.6h1.1M233.3 100.6h1.1M237.6 82.0h1.1M237.5 82.0h1.1M233.2 101.3h1.1M235.8 81.0h1.1M234.0 100.1h1.1M226.2 87.4h1.1M231.2 79.6h1.1M234.6 100.3h1.1M239.4 87.8h1.1M237.1 81.4h1.1M233.0 80.5h1.1M234.0 96.6h1.1M233.7 96.6h1.1M227.1 85.8h1.1M239.5 89.2h1.1M234.6 101.3h1.1M234.2 101.0h1.1M228.1 83.2h1.1M231.4 96.5h1.1M233.8 101.4h1.1M236.8 95.6h1.1M234.6 100.7h1.1M233.8 100.6h1.1M239.3 88.9h1.1M235.7 96.2h1.1M233.9 81.2h1.1M227.1 89.7h1.1M238.9 87.2h1.1M232.0 96.9h1.1M231.9 96.5h1.1M231.8 96.7h1.1M229.8 95.4h1.1M231.5 80.3h1.1M238.0 93.4h1.1M235.4 96.2h1.1M239.1 89.0h1.1M232.4 80.6h1.1M238.4 90.9h1.1M233.3 81.2h1.1M237.8 92.4h1.1M239.1 87.8h1.1M238.9 87.8h1.1M239.0 87.8h1.1M238.7 87.5h1.1M238.2 92.1h1.1M236.4 95.8h1.1M234.3 96.4h1.1M235.0 81.6h1.1M227.5 90.1h1.1M227.7 90.0h1.1M237.6 94.7h1.1M228.8 82.2h1.1M233.9 96.3h1.1" stroke="rgb(9,71,246)" stroke-width="1.1" fill="none"/>
<path d="M227.8 90.6h1.1M227.9 90.8h1.1M231.2 96.0h1.1M231.4 96.3h1.1M231.3 96.3h1.1M234.7 81.4h1.1M237.3 93.9h1.1M236.0 82.0h1.1M233.2 96.4h1.1M233.0 96.3h1.1M236.0 95.8h1.1M229.9 94.7h1.1M229.8 94.9h1.1M226.8 88.7h1.1M230.6 80.5h1.1M230.6 80.4h1.1M237.3 93.2h1.1M227.2 87.4h1.1M229.2 93.5h1.1M227.8 84.6h1.1M238.7 87.1h1.1M238.4 87.0h1.1M226.7 88.1h1.1M227.1 88.2h1.1M229.9 81.4h1.1M229.9 81.1h1.1M233.8 81.7h1.1M237.9 91.0h1.1M237.3 92.7h1.1M227.6 86.3h1.1M230.9 80.7h1.1M236.8 94.7h1.1M235.1 95.7h1.1M228.3 83.8h1.1M236.3 95.3h1.1M236.7 95.0h1.1M236.4 94.9h1.1M238.4 88.4h1.1M227.3 89.6h1.1M237.7 86.3h1.1M238.1 90.8h1.1M229.7 92.9h1.1M229.3 82.1h1.1M233.7 95.5h1.1M236.8 83.8h1.1M237.1 83.7h1.1M236.9 83.7h1.1M236.9 83.6h1.1M227.3 86.8h1.1M229.9 94.1h1.1M229.8 94.3h1.1M235.7 82.9h1.1M230.2 81.1h1.1M235.8 95.3h1.1M228.1 90.2h1.1M228.1 90.1h1.1M238.0 90.3h1.1M237.8 90.3h1.1M237.7 91.5h1.1M232.8 95.4h1.1M230.8 95.3h1.1M229.5 92.8h1.1M229.2 92.9h1.1M228.7 84.1h1.1M228.9 83.2h1.1M229.2 83.1h1.1M231.8 81.2h1.1M234.3 82.1h1.1M227.7 85.5h1.1M237.4 85.0h1.1M235.3 94.9h1.1M227.4 87.2h1.1M227.3 89.1h1.1" stroke="rgb(3,108,248)" stroke-width="1.1" fill="none"/>
<path d="M230.8 81.1h1.1M234.3 95.2h1.1M234.4 95.1h1.1M229.6 92.4h1.1M229.6 92.1h1.1M236.3 94.2h1.1M236.3 94.3h1.1M235.5 82.6h1.1M229.6 82.5h1.1M236.5 93.6h1.1M236.2 94.5h1.1M227.3 87.7h1.1M228.3 84.7h1.1M228.2 84.7h1.1M231.3 95.1h1.1M227.6 88.6h1.1M238.0 87.1h1.1M227.5 88.1h1.1M236.3 92.6h1.1M236.5 92.5h1.1M230.6 81.6h1.1M230.4 81.8h1.1M235.7 94.4h1.1M235.4 94.6h1.1M235.9 83.0h1.1M230.6 94.4h1.1M235.9 94.3h1.1M232.8 95.0h1.1M234.9 82.6h1.1M237.3 85.8h1.1M228.1 89.5h1.1M227.7 89.9h1.1M227.8 89.6h1.1M237.1 91.4h1.1M237.6 90.6h1.1M230.0 92.9h1.1M232.5 95.1h1.1M234.7 94.9h1.1M233.2 82.1h1.1M233.6 82.2h1.1M235.8 93.3h1.1M235.9 92.9h1.1M236.0 93.2h1.1M236.5 92.2h1.1M235.3 94.2h1.1M232.1 81.7h1.1M231.9 81.7h1.1M237.0 84.5h1.1M230.8 81.8h1.1M229.6 91.4h1.1M229.7 92.6h1.1M235.2 93.9h1.1M231.7 81.6h1.1M231.5 81.5h1.1M231.7 94.7h1.1M230.5 93.6h1.1M230.4 93.6h1.1M237.5 89.6h1.1M237.4 89.8h1.1M228.1 87.2h1.1M227.9 87.3h1.1M236.9 91.1h1.1M237.0 91.0h1.1M229.9 92.0h1.1M229.7 92.1h1.1M234.6 94.0h1.1" stroke="rgb(0,146,245)" stroke-width="1.1" fill="none"/>
<path d="M235.9 92.0h1.1M235.3 92.6h1.1M232.4 94.5h1.1M232.5 94.6h1.1M232.3 94.5h1.1M232.3 94.8h1.1M232.3 94.7h1.1M236.0 83.8h1.1M236.1 83.9h1.1M237.5 88.8h1.1M234.0 94.0h1.1M233.9 94.1h1.1M229.1 84.6h1.1M229.1 84.5h1.1M227.8 88.7h1.1M234.8 93.3h1.1M230.2 92.9h1.1M228.4 86.2h1.1M228.3 86.2h1.1M237.0 85.1h1.1M231.3 94.4h1.1M237.7 87.1h1.1M231.0 82.4h1.1M230.9 93.8h1.1M231.1 93.7h1.1M230.9 93.6h1.1M235.8 91.7h1.1M232.1 82.0h1.1M234.5 93.2h1.1M229.8 83.3h1.1M230.0 83.2h1.1M230.0 83.0h1.1M236.6 91.2h1.1M234.1 93.6h1.1M234.1 93.8h1.1M234.0 93.6h1.1M231.4 82.2h1.1M231.3 82.2h1.1M233.2 82.6h1.1M229.1 85.0h1.1M228.8 85.2h1.1M232.2 94.1h1.1M236.8 90.2h1.1M236.8 89.9h1.1M235.6 83.8h1.1M235.2 83.9h1.1M235.3 83.8h1.1M236.3 84.9h1.1M236.4 84.4h1.1M235.1 92.1h1.1M234.7 92.0h1.1M230.9 92.9h1.1M236.8 85.4h1.1M231.4 93.5h1.1M233.4 93.6h1.1M228.3 87.3h1.1" stroke="rgb(0,187,234)" stroke-width="1.1" fill="none"/>
<path d="M229.7 90.5h1.1M229.9 90.8h1.1M230.1 90.5h1.1M229.6 90.3h1.1M233.2 82.9h1.1M232.9 82.7h1.1M228.8 89.7h1.1M232.7 93.9h1.1M233.1 93.7h1.1M235.9 91.3h1.1M236.4 90.7h1.1M228.3 88.6h1.1M230.4 91.0h1.1M230.5 90.9h1.1M230.2 91.1h1.1M232.3 93.8h1.1M232.5 93.7h1.1M234.6 92.1h1.1M234.6 92.3h1.1M231.1 82.7h1.1M230.1 83.4h1.1M233.5 93.2h1.1M233.6 93.4h1.1M228.3 88.1h1.1M231.6 93.4h1.1M231.5 93.2h1.1M231.5 93.0h1.1M230.9 92.0h1.1M237.1 88.7h1.1M237.2 88.7h1.1M234.8 83.6h1.1M234.8 83.6h1.1M233.8 82.9h1.1M229.2 84.4h1.1M236.9 86.3h1.1M230.3 82.9h1.1M230.8 91.5h1.1M231.8 82.9h1.1M233.5 92.8h1.1M233.6 92.5h1.1M232.5 93.1h1.1M235.3 91.2h1.1M234.2 91.9h1.1M236.3 90.1h1.1M230.4 90.9h1.1M228.8 89.1h1.1M228.8 89.2h1.1M229.0 89.2h1.1M237.0 86.5h1.1M235.8 84.7h1.1M235.8 84.9h1.1M234.5 91.5h1.1M229.4 89.5h1.1M231.4 92.4h1.1M237.0 87.1h1.1M236.8 87.3h1.1M237.1 87.2h1.1M230.9 91.3h1.1M229.1 86.6h1.1M228.8 86.7h1.1M235.7 90.6h1.1M235.9 90.7h1.1M235.7 90.4h1.1M236.2 90.7h1.1M233.2 82.9h1.1M233.3 83.3h1.1M231.9 92.9h1.1M229.5 85.2h1.1M229.9 84.0h1.1" stroke="rgb(2,220,215)" stroke-width="1.1" fill="none"/>
<path d="M232.4 92.8h1.1M232.3 92.6h1.1M232.6 92.5h1.1M233.5 92.0h1.1M231.5 91.7h1.1M231.5 91.6h1.1M231.9 92.4h1.1M228.8 87.0h1.1M234.1 91.5h1.1M234.0 91.7h1.1M236.6 85.4h1.1M236.4 85.6h1.1M233.1 92.4h1.1M232.3 92.2h1.1M232.7 92.2h1.1M230.7 83.7h1.1M230.9 90.8h1.1M235.0 84.2h1.1M234.7 84.1h1.1M228.8 87.9h1.1M228.8 87.6h1.1M229.1 88.3h1.1M236.4 89.2h1.1M236.7 89.0h1.1M236.3 89.4h1.1M229.4 85.9h1.1M229.5 85.5h1.1M231.8 91.9h1.1M231.8 91.5h1.1M232.0 91.8h1.1M230.0 89.9h1.1M229.8 89.6h1.1M230.0 89.9h1.1M233.3 91.8h1.1M229.7 89.2h1.1M229.6 89.0h1.1M229.2 89.0h1.1M236.0 90.1h1.1M235.7 85.1h1.1M233.7 83.9h1.1M233.7 83.6h1.1M231.6 82.9h1.1M231.4 83.4h1.1M231.6 83.1h1.1M232.4 91.5h1.1M232.4 91.8h1.1M236.2 88.6h1.1M236.7 88.7h1.1M236.5 88.6h1.1M232.1 83.1h1.1M236.5 86.3h1.1M236.3 86.0h1.1" stroke="rgb(17,220,167)" stroke-width="1.1" fill="none"/>
<path d="M230.8 90.4h1.1M231.1 90.2h1.1M230.9 90.2h1.1M233.8 91.2h1.1M233.8 91.4h1.1M234.3 84.0h1.1M235.0 90.5h1.1M229.5 88.5h1.1M235.8 89.6h1.1M236.2 89.8h1.1M236.5 87.4h1.1M236.5 87.4h1.1M236.2 87.8h1.1M236.3 87.5h1.1M236.5 86.4h1.1M230.4 89.4h1.1M230.5 89.6h1.1M231.0 83.5h1.1M233.5 83.8h1.1M233.5 83.8h1.1M229.3 86.5h1.1M233.3 91.3h1.1M236.5 87.3h1.1M236.4 87.2h1.1M230.0 85.1h1.1M229.9 88.9h1.1M232.7 91.3h1.1M235.1 84.4h1.1M235.9 85.8h1.1M229.3 88.2h1.1M231.8 90.9h1.1M229.5 87.3h1.1M235.6 85.1h1.1M229.5 87.6h1.1M236.1 89.1h1.1M234.4 90.9h1.1M231.5 83.7h1.1M231.3 83.8h1.1M234.1 84.3h1.1M234.0 84.4h1.1M234.1 84.4h1.1M229.8 85.8h1.1" stroke="rgb(31,220,118)" stroke-width="1.1" fill="none"/>
<path d="M232.5 90.5h1.1M235.7 88.9h1.1M229.8 88.9h1.1M229.7 88.8h1.1M233.8 90.9h1.1M233.8 90.7h1.1M235.8 86.1h1.1M235.8 86.1h1.1M234.9 90.0h1.1M235.4 89.7h1.1M230.9 84.4h1.1M230.8 84.2h1.1M230.8 84.2h1.1M233.1 90.8h1.1M235.1 85.3h1.1M229.9 86.4h1.1M229.7 85.9h1.1M235.6 85.9h1.1M236.1 86.5h1.1M236.1 86.6h1.1M236.0 86.5h1.1M233.3 84.3h1.1M229.8 88.0h1.1M229.8 88.2h1.1M236.0 87.3h1.1M235.9 87.3h1.1M236.2 87.0h1.1M230.3 85.0h1.1M230.0 86.5h1.1M234.4 90.4h1.1M235.5 89.1h1.1" stroke="rgb(53,221,84)" stroke-width="1.1" fill="none"/>
<path d="M230.8 89.3h1.1M230.0 87.4h1.1M229.9 87.6h1.1M230.6 88.7h1.1M229.7 87.2h1.1M231.4 84.2h1.1M231.3 84.2h1.1M231.4 84.2h1.1M231.4 84.0h1.1M232.3 90.3h1.1M232.6 90.3h1.1M232.4 90.0h1.1M232.6 90.2h1.1M234.0 84.4h1.1M232.9 84.3h1.1M232.8 84.0h1.1M235.0 89.9h1.1M234.7 89.7h1.1M234.9 89.7h1.1M230.7 84.7h1.1M231.0 84.6h1.1M235.3 85.9h1.1M233.9 90.1h1.1M233.9 90.1h1.1M231.9 84.3h1.1M232.0 84.3h1.1M235.2 85.7h1.1M232.4 84.2h1.1M232.4 83.9h1.1M232.7 84.1h1.1M232.0 89.9h1.1M230.5 85.4h1.1M230.5 88.4h1.1M235.6 86.5h1.1M235.3 86.9h1.1" stroke="rgb(86,225,70)" stroke-width="1.1" fill="none"/>
<path d="M233.7 84.8h1.1M233.5 84.7h1.1M231.1 88.4h1.1M230.9 88.8h1.1M231.2 88.8h1.1M234.6 89.6h1.1M234.5 89.4h1.1M235.0 89.1h1.1M234.8 89.3h1.1M235.2 87.8h1.1M230.4 86.3h1.1M230.4 86.0h1.1M235.3 87.2h1.1M235.3 87.4h1.1M231.0 85.1h1.1M230.8 85.0h1.1M232.2 89.8h1.1M232.6 89.6h1.1M232.6 89.7h1.1M232.6 89.7h1.1M230.3 87.6h1.1M230.5 87.9h1.1M230.4 86.4h1.1M234.4 85.7h1.1M234.5 85.7h1.1M232.9 84.5h1.1M232.7 84.8h1.1M233.9 89.9h1.1M232.0 89.3h1.1M231.8 84.6h1.1M232.2 84.7h1.1M232.0 84.8h1.1" stroke="rgb(119,230,56)" stroke-width="1.1" fill="none"/>
<path d="M234.9 88.8h1.1M234.8 88.7h1.1M233.0 89.7h1.1M232.7 89.4h1.1M233.1 89.5h1.1M231.2 88.0h1.1M231.0 88.0h1.1M231.2 88.1h1.1M233.7 89.9h1.1M233.4 89.7h1.1M231.3 88.7h1.1M231.1 85.5h1.1M235.0 86.4h1.1M235.0 86.4h1.1M234.5 89.1h1.1M234.5 89.0h1.1M234.4 89.0h1.1M234.5 89.0h1.1M233.6 84.9h1.1M233.5 85.0h1.1M235.1 87.9h1.1M235.1 88.2h1.1M235.0 87.9h1.1M231.4 85.3h1.1M231.5 84.9h1.1M231.4 85.3h1.1M231.3 85.2h1.1M235.1 87.1h1.1M234.8 87.4h1.1M235.0 87.6h1.1M234.7 87.7h1.1M234.5 86.1h1.1M234.0 85.5h1.1M232.4 89.3h1.1M232.4 89.3h1.1M230.9 87.5h1.1" stroke="rgb(153,234,42)" stroke-width="1.1" fill="none"/>
<path d="M231.0 86.2h1.1M233.1 85.3h1.1M233.0 85.3h1.1M233.2 85.1h1.1M233.9 89.4h1.1M233.9 89.2h1.1M232.0 88.6h1.1M231.9 88.6h1.1M234.3 88.9h1.1M231.8 84.9h1.1M231.0 87.2h1.1M231.1 87.3h1.1M231.0 87.1h1.1M231.0 87.0h1.1M231.2 86.5h1.1M230.9 86.8h1.1M230.9 86.8h1.1M231.1 86.8h1.1M231.6 88.3h1.1M231.5 88.3h1.1M233.0 89.2h1.1M233.2 89.4h1.1M232.7 85.1h1.1M232.7 85.2h1.1M233.6 89.4h1.1M233.3 89.3h1.1M233.4 89.3h1.1M233.7 89.1h1.1M234.2 86.4h1.1M234.7 86.7h1.1" stroke="rgb(191,231,26)" stroke-width="1.1" fill="none"/>
<path d="M234.7 88.2h1.1M233.8 86.2h1.1M233.8 86.1h1.1M234.0 86.0h1.1M234.4 87.4h1.1M234.3 87.5h1.1M234.5 87.9h1.1M234.7 87.5h1.1M234.3 87.6h1.1M232.6 88.9h1.1M231.5 87.5h1.1M231.5 87.7h1.1M233.8 88.4h1.1M234.1 88.6h1.1M231.6 86.1h1.1M231.6 86.0h1.1M231.9 85.5h1.1M232.8 85.9h1.1M232.7 85.4h1.1M231.5 87.4h1.1M231.2 87.2h1.1M231.7 86.9h1.1M231.3 87.4h1.1M231.5 87.0h1.1M233.0 88.9h1.1M233.2 88.8h1.1M233.2 88.5h1.1M232.6 85.7h1.1M232.3 85.6h1.1M232.3 85.7h1.1M232.6 85.6h1.1M232.2 85.7h1.1M232.4 85.9h1.1M231.7 86.6h1.1M231.2 86.6h1.1M233.3 88.8h1.1M233.5 88.8h1.1M233.6 88.7h1.1M233.6 88.8h1.1M233.4 88.5h1.1M233.9 86.5h1.1M233.9 86.5h1.1M233.8 86.6h1.1M233.9 86.4h1.1M233.8 86.7h1.1M233.8 86.5h1.1" stroke="rgb(231,227,10)" stroke-width="1.1" fill="none"/>
<path d="M233.3 86.4h1.1M234.0 88.1h1.1M234.1 88.2h1.1M233.9 88.4h1.1M233.9 87.1h1.1M233.7 87.0h1.1M232.6 88.2h1.1M232.4 88.3h1.1M232.1 86.0h1.1M232.1 86.0h1.1M231.8 86.1h1.1M232.1 86.1h1.1M232.0 86.3h1.1M232.2 86.1h1.1M232.1 87.8h1.1M232.0 87.5h1.1M233.4 88.3h1.1M233.6 88.0h1.1" stroke="rgb(255,203,0)" stroke-width="1.1" fill="none"/>
<path d="M232.7 86.4h1.1M233.1 88.3h1.1M232.7 88.2h1.1M233.0 88.3h1.1M233.4 86.8h1.1M233.3 86.9h1.1M233.3 86.7h1.1M233.4 86.4h1.1M233.7 86.7h1.1M232.1 87.4h1.1M231.8 87.0h1.1M231.9 87.2h1.1M232.1 86.9h1.1M232.7 87.8h1.1M232.5 87.4h1.1M232.4 87.6h1.1M233.4 87.5h1.1M233.3 87.4h1.1M233.5 87.6h1.1M233.6 87.7h1.1M233.2 86.7h1.1M232.8 86.4h1.1M233.0 86.7h1.1M232.9 86.7h1.1M232.8 86.5h1.1M232.4 86.5h1.1M232.4 86.8h1.1M232.3 86.7h1.1M232.3 86.6h1.1M232.3 86.8h1.1M232.8 87.6h1.1M232.8 87.6h1.1M233.1 87.7h1.1M232.9 87.4h1.1M233.0 87.9h1.1M232.9 87.7h1.1M232.6 87.2h1.1M232.7 87.2h1.1M232.9 87.2h1.1M233.0 87.0h1.1" stroke="rgb(255,150,0)" stroke-width="1.1" fill="none"/>
<rect x="218.1" y="38.4" width="43.9" height="35.7" fill="none" stroke="#2a2a2a" stroke-width="1.15"/>
<rect x="218.1" y="77.4" width="43.9" height="57.2" fill="none" stroke="#2a2a2a" stroke-width="1.15"/>
<path d="M220 134.4h7" stroke="#3c7a3c" stroke-width="1"/><path d="M227 134.4h11" stroke="#a82424" stroke-width="1"/><path d="M238 134.4h9" stroke="#2c2c9c" stroke-width="1"/>
<text x="264.4" y="43.3" font-size="6.3" font-weight="bold" text-anchor="start" fill="#222" >10.0%</text>
<text x="264.4" y="84.0" font-size="6.3" font-weight="bold" text-anchor="start" fill="#222" >89.9%</text>
<text transform="translate(197.2,81.3) rotate(-90)" font-size="11" font-weight="bold" text-anchor="middle" fill="#161616">hMICL</text>
<text x="269.5" y="162.3" font-size="11" font-weight="bold" text-anchor="middle" fill="#161616" >SSC-A</text>
</g>
<g id="pc">
<text x="387.0" y="20.5" font-size="9.05" font-weight="bold" text-anchor="start" fill="#222" >CD34+CD38+</text>
<path d="M421.9 114.5h1.1M420.1 120.0h1.1M424.5 99.9h1.1M393.6 128.3h1.1M416.3 43.4h1.1M392.1 53.5h1.1" stroke="rgb(15,15,215)" stroke-width="1.1" fill="none"/>
<path d="M425.9 67.6h1.1M395.4 118.1h1.1M413.6 132.4h1.1M414.7 126.6h1.1M391.9 77.6h1.1M421.9 101.7h1.1M392.4 90.7h1.1M391.7 87.7h1.1M407.1 44.1h1.1M405.1 46.8h1.1M401.5 132.6h1.1M419.4 88.1h1.1M396.2 52.9h1.1M394.6 112.3h1.1M428.2 45.4h1.1M416.8 86.9h1.1M416.7 99.0h1.1M410.4 128.3h1.1M422.2 69.4h1.1M420.0 108.0h1.1M392.2 64.0h1.1M411.0 130.8h1.1M390.5 103.9h1.1M401.9 48.0h1.1M393.7 105.4h1.1M400.8 47.2h1.1M395.2 107.9h1.1M393.0 103.2h1.1M390.3 68.6h1.1M398.4 124.9h1.1M416.3 119.0h1.1M420.4 105.3h1.1M393.6 61.2h1.1M417.5 108.9h1.1M417.4 111.9h1.1M416.8 103.0h1.1M400.5 129.0h1.1M414.5 123.0h1.1M392.2 73.1h1.1M410.2 46.3h1.1M420.1 68.1h1.1M422.4 46.8h1.1M392.6 73.1h1.1M407.9 131.9h1.1M420.0 91.8h1.1M398.5 127.8h1.1M418.0 91.0h1.1M395.6 57.6h1.1M394.2 62.6h1.1M431.6 48.5h1.1M427.4 58.0h1.1M404.3 131.8h1.1M419.8 91.8h1.1M393.2 68.0h1.1M432.3 56.1h1.1M428.1 56.6h1.1M430.2 47.0h1.1M411.5 124.7h1.1M411.3 46.7h1.1M420.2 64.5h1.1M424.3 62.8h1.1M414.3 82.5h1.1M430.6 55.1h1.1M396.4 114.7h1.1M397.8 55.0h1.1M393.8 67.2h1.1M416.6 104.6h1.1M419.3 105.8h1.1M418.6 69.5h1.1M417.4 106.9h1.1M404.0 51.1h1.1M430.9 52.9h1.1M430.5 52.7h1.1M430.5 49.1h1.1M399.6 126.3h1.1M415.0 73.3h1.1M432.9 54.8h1.1M403.3 128.6h1.1M414.0 85.1h1.1M428.5 53.4h1.1M428.9 48.1h1.1M424.8 60.8h1.1M414.0 84.8h1.1M407.8 130.9h1.1M426.7 51.2h1.1M428.0 49.3h1.1M402.3 126.8h1.1M428.8 50.6h1.1M401.1 126.4h1.1M397.0 57.4h1.1M422.8 63.1h1.1M418.0 68.9h1.1M403.3 125.2h1.1M395.2 98.6h1.1M396.6 93.2h1.1M397.8 113.1h1.1M415.7 77.1h1.1M402.3 122.8h1.1M397.5 57.4h1.1M412.1 48.3h1.1M414.3 48.2h1.1M403.6 51.9h1.1M401.0 52.1h1.1M415.3 111.8h1.1" stroke="rgb(15,20,222)" stroke-width="1.1" fill="none"/>
<path d="M399.8 53.7h1.1M413.8 48.2h1.1M414.9 75.2h1.1M422.5 62.8h1.1M414.6 94.7h1.1M396.8 97.0h1.1M419.1 63.5h1.1M426.7 55.1h1.1M424.5 49.3h1.1M413.3 89.8h1.1M426.5 53.1h1.1M424.0 48.9h1.1M401.3 120.8h1.1M418.5 63.5h1.1M396.6 61.6h1.1M407.5 129.7h1.1M415.3 76.8h1.1M415.1 76.8h1.1M415.2 113.8h1.1M416.0 70.5h1.1M413.4 122.8h1.1M400.9 52.7h1.1M424.9 58.7h1.1M398.1 114.7h1.1M415.7 115.3h1.1M395.5 99.7h1.1M409.3 50.6h1.1M416.9 69.9h1.1M425.5 55.5h1.1M426.0 53.5h1.1M425.2 56.0h1.1M397.1 102.6h1.1M400.7 119.2h1.1M415.5 116.3h1.1M424.0 49.2h1.1M404.8 129.8h1.1M396.2 88.6h1.1M395.8 79.5h1.1M414.1 50.1h1.1M414.4 110.4h1.1M399.8 116.6h1.1M396.3 98.8h1.1M419.6 47.4h1.1M416.0 49.5h1.1M412.8 119.0h1.1M406.6 127.5h1.1M395.4 68.8h1.1M396.3 88.4h1.1M405.8 130.0h1.1M410.2 117.5h1.1M414.2 108.9h1.1M399.1 115.6h1.1M406.0 127.6h1.1M414.0 95.3h1.1M397.5 108.7h1.1M406.5 125.6h1.1M398.9 104.7h1.1M413.9 104.8h1.1M407.7 125.2h1.1M395.8 74.7h1.1M413.5 110.3h1.1M414.2 96.2h1.1M415.0 116.8h1.1M401.1 119.1h1.1M398.6 111.2h1.1M419.3 48.1h1.1M416.5 50.3h1.1M413.6 113.5h1.1M414.0 114.6h1.1M413.7 118.1h1.1M412.6 121.7h1.1M420.3 48.2h1.1M398.3 96.0h1.1M405.8 129.2h1.1M418.1 61.7h1.1M404.0 123.5h1.1M402.6 120.9h1.1M406.1 129.0h1.1M417.4 50.2h1.1M414.4 107.0h1.1M397.0 90.5h1.1M423.7 59.0h1.1M414.8 106.1h1.1M398.8 110.4h1.1M420.4 61.3h1.1M413.0 113.0h1.1M421.3 61.3h1.1M408.8 119.0h1.1M410.7 119.4h1.1M409.6 116.2h1.1M400.5 55.0h1.1M405.3 124.3h1.1M399.4 104.9h1.1M398.1 108.3h1.1M419.0 48.7h1.1M399.8 114.9h1.1M402.8 53.7h1.1M412.2 85.4h1.1M420.4 60.6h1.1M411.5 114.6h1.1M410.4 123.3h1.1M413.0 104.3h1.1M417.0 58.7h1.1M403.6 53.8h1.1M401.0 54.5h1.1M415.5 67.1h1.1M415.8 67.4h1.1M411.3 115.3h1.1M409.9 51.9h1.1M412.1 88.4h1.1M412.0 87.9h1.1M413.9 98.9h1.1M396.2 66.5h1.1M412.3 51.0h1.1M417.0 62.4h1.1M397.7 98.8h1.1M412.5 112.8h1.1M404.6 53.8h1.1M413.6 96.8h1.1M404.3 122.4h1.1M397.0 101.4h1.1M412.2 110.2h1.1M419.4 48.9h1.1M420.9 60.6h1.1M413.3 80.1h1.1M398.5 109.9h1.1M411.9 109.1h1.1M408.0 119.6h1.1M417.4 58.0h1.1M423.9 51.4h1.1M412.6 117.4h1.1M408.1 124.0h1.1M411.1 122.4h1.1M414.1 116.7h1.1M417.3 60.7h1.1M411.1 50.6h1.1M411.1 50.6h1.1M412.8 116.8h1.1M397.8 91.5h1.1M396.1 76.2h1.1M398.2 93.5h1.1M398.8 106.9h1.1M398.8 107.2h1.1M423.8 50.6h1.1M413.1 117.3h1.1M413.4 98.1h1.1M398.5 96.0h1.1M416.9 61.1h1.1M396.8 82.6h1.1" stroke="rgb(15,25,230)" stroke-width="1.1" fill="none"/>
<path d="M416.1 63.9h1.1M406.4 124.1h1.1M411.7 51.2h1.1M409.7 115.1h1.1M415.5 69.4h1.1M411.4 111.2h1.1M417.9 56.9h1.1M399.8 102.9h1.1M398.4 102.3h1.1M411.5 112.2h1.1M410.3 114.1h1.1M417.4 51.5h1.1M413.3 100.3h1.1M411.7 121.3h1.1M410.0 52.2h1.1M405.3 122.9h1.1M407.6 53.4h1.1M396.6 77.8h1.1M410.9 112.1h1.1M399.0 106.8h1.1M414.5 52.7h1.1M396.5 86.8h1.1M411.0 122.0h1.1M407.8 120.7h1.1M412.4 53.4h1.1M417.8 56.3h1.1M413.3 79.2h1.1M404.9 122.6h1.1M411.8 83.5h1.1M411.0 51.5h1.1M410.9 120.7h1.1M416.4 57.3h1.1M418.3 52.0h1.1M422.6 59.2h1.1M413.9 106.3h1.1M421.5 50.1h1.1M410.6 53.9h1.1M416.2 52.3h1.1M415.2 56.6h1.1M420.8 50.0h1.1M420.4 58.8h1.1M410.4 107.3h1.1M413.3 107.2h1.1M413.2 107.0h1.1M412.9 107.1h1.1M420.2 50.5h1.1M419.9 51.9h1.1M397.5 100.1h1.1M414.6 55.0h1.1M413.8 55.1h1.1M414.5 53.1h1.1M407.8 123.7h1.1M423.7 52.9h1.1M396.8 79.6h1.1M415.8 58.1h1.1M410.1 109.5h1.1M405.1 120.4h1.1M410.6 121.5h1.1M396.6 66.5h1.1M413.0 98.8h1.1M422.5 58.8h1.1M408.9 112.4h1.1M403.5 54.5h1.1M412.4 103.2h1.1M420.0 58.3h1.1M401.8 117.5h1.1M400.8 56.4h1.1M409.6 121.4h1.1M399.3 98.1h1.1M414.5 53.8h1.1M414.6 57.6h1.1M412.8 55.2h1.1M407.0 121.8h1.1M421.7 50.6h1.1M410.8 106.6h1.1M412.4 100.9h1.1M408.4 114.0h1.1M423.0 54.7h1.1M408.8 122.6h1.1M396.8 68.2h1.1M402.8 118.6h1.1M411.2 54.5h1.1M418.2 53.4h1.1M412.1 106.0h1.1M412.9 74.4h1.1M417.1 54.4h1.1M414.2 57.8h1.1M417.7 54.7h1.1M408.9 112.9h1.1M412.6 97.1h1.1M400.5 105.0h1.1M410.1 54.8h1.1M406.7 53.5h1.1M409.5 110.2h1.1M415.7 54.2h1.1M411.6 55.2h1.1M400.8 113.2h1.1M422.6 56.8h1.1M404.7 119.6h1.1M404.6 119.5h1.1M415.4 69.2h1.1M412.2 55.4h1.1M408.3 122.7h1.1M415.0 68.1h1.1M411.5 89.2h1.1M415.7 53.4h1.1M397.6 62.6h1.1M418.3 54.3h1.1M407.2 122.8h1.1M416.5 53.7h1.1M412.6 72.0h1.1M403.4 119.4h1.1M422.1 58.6h1.1M396.7 76.0h1.1M398.0 100.9h1.1M407.9 122.5h1.1M412.5 92.0h1.1M407.8 53.7h1.1M415.5 60.1h1.1M423.2 52.5h1.1M419.7 53.1h1.1M405.9 119.2h1.1M412.8 79.6h1.1M422.7 51.8h1.1M406.5 118.6h1.1M400.1 58.1h1.1M414.2 64.9h1.1M414.0 65.1h1.1M414.7 67.6h1.1M397.4 65.9h1.1M400.2 109.4h1.1M420.7 52.5h1.1M422.2 51.6h1.1M422.5 55.1h1.1M400.5 108.4h1.1M401.1 115.3h1.1M409.1 109.7h1.1M408.9 109.4h1.1M407.7 114.6h1.1M407.5 114.6h1.1M415.7 62.4h1.1M407.8 113.2h1.1M408.6 110.6h1.1M397.1 79.2h1.1M412.3 101.3h1.1M412.6 93.4h1.1M411.6 104.4h1.1M421.7 58.4h1.1M406.2 112.3h1.1M400.5 106.6h1.1M422.8 53.2h1.1M414.8 64.0h1.1M397.3 81.6h1.1M401.0 113.3h1.1M399.6 98.8h1.1M400.4 58.6h1.1M400.4 58.9h1.1M406.8 111.9h1.1M419.6 54.6h1.1M408.9 108.0h1.1M398.4 100.6h1.1M405.4 110.9h1.1M408.5 107.7h1.1M408.7 109.8h1.1M407.0 114.1h1.1M422.1 56.0h1.1M412.5 78.1h1.1M421.5 57.9h1.1M421.6 57.6h1.1M406.8 113.6h1.1M398.7 91.8h1.1M398.1 89.8h1.1M402.4 108.6h1.1M410.9 56.0h1.1M397.7 63.7h1.1M406.9 116.4h1.1M404.6 111.4h1.1M401.0 107.6h1.1M411.1 86.9h1.1M420.2 54.3h1.1M412.7 73.5h1.1M420.4 56.5h1.1M420.9 56.4h1.1M407.3 110.6h1.1M406.4 110.7h1.1M406.5 110.4h1.1M402.5 55.9h1.1M397.6 88.0h1.1M406.0 110.0h1.1M403.9 111.0h1.1M397.3 68.7h1.1M422.0 53.4h1.1" stroke="rgb(15,30,237)" stroke-width="1.1" fill="none"/>
<path d="M415.2 60.4h1.1M410.0 105.6h1.1M400.6 111.6h1.1M405.8 109.0h1.1M400.2 98.0h1.1M412.0 80.0h1.1M401.5 114.1h1.1M406.9 117.4h1.1M404.5 118.7h1.1M415.3 62.5h1.1M406.1 118.0h1.1M398.6 61.6h1.1M401.7 102.3h1.1M420.5 55.5h1.1M401.6 109.6h1.1M407.2 54.0h1.1M412.3 94.3h1.1M407.5 108.5h1.1M421.9 54.8h1.1M421.7 54.7h1.1M402.0 116.8h1.1M414.9 61.4h1.1M406.5 117.2h1.1M403.6 111.4h1.1M404.9 113.8h1.1M411.6 98.0h1.1M404.0 108.1h1.1M411.8 101.2h1.1M421.0 55.0h1.1M402.5 101.2h1.1M402.5 100.9h1.1M402.8 116.9h1.1M398.0 62.8h1.1M410.6 84.2h1.1M410.8 104.7h1.1M400.2 59.6h1.1M400.1 101.4h1.1M401.0 111.8h1.1M410.6 83.6h1.1M402.2 107.4h1.1M404.1 113.4h1.1M399.7 94.7h1.1M410.8 97.1h1.1M412.2 73.1h1.1M402.7 110.7h1.1M407.9 107.0h1.1M401.2 110.8h1.1M410.7 85.5h1.1M403.1 112.2h1.1M414.3 59.9h1.1M410.6 97.7h1.1M403.4 112.7h1.1M401.0 111.1h1.1M411.4 80.5h1.1M413.9 69.4h1.1M412.0 92.9h1.1M412.3 93.2h1.1M409.6 105.0h1.1M410.6 104.2h1.1M410.5 104.2h1.1M400.7 101.5h1.1M411.7 99.0h1.1M402.3 100.8h1.1M402.1 115.6h1.1M401.1 101.6h1.1M407.5 106.0h1.1M401.7 105.9h1.1M399.8 100.9h1.1M411.9 57.8h1.1M401.4 98.8h1.1M397.8 82.8h1.1M401.7 110.9h1.1M401.5 110.6h1.1M413.6 64.1h1.1M401.9 106.0h1.1M412.4 58.6h1.1M402.4 56.8h1.1M403.7 56.2h1.1M401.3 98.3h1.1M401.8 111.3h1.1M412.3 73.6h1.1M402.5 114.0h1.1M404.7 117.6h1.1M412.2 58.2h1.1M412.1 58.0h1.1M406.5 107.8h1.1M397.4 72.8h1.1M397.5 80.2h1.1M406.1 116.8h1.1M407.2 106.4h1.1M406.4 116.3h1.1M410.2 96.8h1.1M397.5 80.4h1.1M401.4 100.1h1.1M405.8 107.5h1.1M405.6 107.6h1.1M413.5 68.8h1.1M400.8 101.1h1.1M399.0 91.3h1.1M406.6 106.5h1.1M412.5 65.7h1.1M404.0 114.2h1.1M397.1 73.0h1.1M410.9 95.5h1.1M403.1 116.7h1.1M403.2 103.6h1.1M410.0 98.8h1.1M402.4 115.7h1.1M405.4 115.9h1.1M400.9 100.1h1.1M406.1 107.3h1.1M409.0 104.7h1.1M411.1 100.3h1.1M409.1 56.3h1.1M400.7 100.2h1.1M411.1 91.3h1.1M411.2 91.2h1.1M413.2 69.7h1.1M413.3 69.4h1.1M404.3 102.5h1.1M397.6 71.2h1.1M405.8 116.7h1.1M411.7 58.3h1.1M411.6 58.2h1.1M413.2 64.1h1.1M404.8 99.1h1.1M402.7 106.9h1.1M400.6 100.8h1.1M411.1 94.9h1.1M408.9 104.6h1.1M408.9 104.8h1.1M414.3 62.3h1.1M403.6 116.8h1.1M403.8 116.5h1.1M403.1 56.7h1.1M410.2 98.9h1.1M411.7 93.3h1.1M404.3 103.3h1.1M404.1 103.2h1.1M402.8 98.0h1.1M403.7 114.4h1.1M403.5 114.9h1.1M413.7 63.1h1.1M410.1 102.9h1.1M410.3 102.5h1.1M400.2 94.4h1.1M403.4 103.4h1.1M412.5 67.0h1.1M410.5 95.4h1.1M403.3 98.3h1.1M403.1 98.4h1.1" stroke="rgb(15,35,245)" stroke-width="1.1" fill="none"/>
<path d="M400.8 96.3h1.1M409.7 57.2h1.1M399.6 92.1h1.1M397.9 85.2h1.1M404.0 98.3h1.1M404.3 107.2h1.1M404.2 106.9h1.1M410.5 100.8h1.1M410.5 100.8h1.1M413.8 61.1h1.1M403.5 106.9h1.1M410.3 102.3h1.1M410.1 99.5h1.1M404.2 103.8h1.1M404.0 115.2h1.1M406.7 104.1h1.1M406.6 104.1h1.1M404.7 116.0h1.1M405.1 99.5h1.1M410.7 90.5h1.1M413.2 60.5h1.1M404.6 103.5h1.1M407.7 55.2h1.1M408.5 99.4h1.1M412.3 69.9h1.1M412.1 70.0h1.1M411.2 80.6h1.1M402.5 57.1h1.1M412.5 60.0h1.1M409.6 99.9h1.1M405.1 106.2h1.1M404.4 115.7h1.1M413.5 62.0h1.1M404.4 104.0h1.1M412.9 69.5h1.1M405.2 100.7h1.1M407.3 55.3h1.1M407.4 55.0h1.1M407.7 98.1h1.1M411.2 92.3h1.1M410.4 81.8h1.1M412.3 59.6h1.1M407.4 98.9h1.1M400.1 93.8h1.1M400.1 93.7h1.1M408.1 99.3h1.1M404.8 97.5h1.1M404.6 97.8h1.1M406.1 55.5h1.1M413.2 61.0h1.1M408.3 55.7h1.1M401.0 96.8h1.1M402.5 105.5h1.1M402.7 105.8h1.1M402.9 57.3h1.1M398.2 81.4h1.1M407.6 97.7h1.1M401.5 58.4h1.1M401.6 58.8h1.1M403.2 106.9h1.1M410.3 95.4h1.1M410.4 95.4h1.1M413.3 62.6h1.1M411.0 71.0h1.1M411.3 92.5h1.1M411.9 65.4h1.1M406.8 103.6h1.1M409.2 103.2h1.1M404.4 105.6h1.1M406.6 97.4h1.1M403.4 57.3h1.1M405.7 99.9h1.1M412.9 62.2h1.1M403.1 97.4h1.1M409.5 101.1h1.1M409.5 100.9h1.1M409.9 101.3h1.1M399.2 89.9h1.1M412.4 69.0h1.1M412.9 69.4h1.1M407.2 103.5h1.1M412.4 61.0h1.1M402.5 57.8h1.1M411.4 73.2h1.1M407.3 99.4h1.1M404.2 105.2h1.1M407.9 103.5h1.1M403.1 106.0h1.1M398.2 66.2h1.1M397.4 72.4h1.1M412.4 68.4h1.1M410.0 94.9h1.1M405.6 101.9h1.1M405.8 101.2h1.1M405.8 101.0h1.1M401.4 96.0h1.1M410.6 81.3h1.1M406.2 99.5h1.1M406.2 102.5h1.1M397.7 74.9h1.1M408.2 96.4h1.1M403.8 105.7h1.1M403.5 105.8h1.1M410.6 93.0h1.1M410.4 93.1h1.1M400.4 60.5h1.1M410.0 90.5h1.1M407.1 55.8h1.1M404.9 96.5h1.1M411.8 75.1h1.1M398.0 83.8h1.1M407.9 103.3h1.1M406.1 55.9h1.1M406.4 55.9h1.1M402.3 58.6h1.1M398.2 68.0h1.1M406.0 100.2h1.1M411.7 75.9h1.1M407.6 103.2h1.1M411.4 61.3h1.1M402.9 97.2h1.1M409.4 94.8h1.1M407.6 96.7h1.1M408.3 100.8h1.1M410.7 71.5h1.1M411.9 62.1h1.1M404.1 57.4h1.1M411.9 62.8h1.1M411.6 62.7h1.1M398.2 86.6h1.1M407.1 96.7h1.1M405.8 96.2h1.1M411.1 79.3h1.1M408.3 95.9h1.1M407.1 102.5h1.1M411.6 64.2h1.1M411.5 64.4h1.1M407.7 56.3h1.1M398.3 71.8h1.1M407.7 102.5h1.1M404.6 57.7h1.1M407.9 102.1h1.1M406.4 95.9h1.1M406.2 96.3h1.1M411.9 68.7h1.1M408.4 56.6h1.1M408.1 101.6h1.1M409.7 93.4h1.1M409.5 92.2h1.1M406.5 100.7h1.1" stroke="rgb(9,71,246)" stroke-width="1.1" fill="none"/>
<path d="M398.8 81.0h1.1M398.5 81.3h1.1M399.9 90.3h1.1M406.5 101.0h1.1M401.6 95.9h1.1M407.5 101.3h1.1M401.2 95.2h1.1M410.9 59.8h1.1M410.6 59.8h1.1M410.9 62.6h1.1M400.5 93.0h1.1M407.7 96.0h1.1M407.4 96.0h1.1M397.9 86.1h1.1M411.6 66.2h1.1M407.2 101.0h1.1M408.4 95.3h1.1M405.2 57.7h1.1M410.1 59.3h1.1M408.5 57.7h1.1M401.4 60.3h1.1M410.4 59.9h1.1M399.3 88.4h1.1M411.5 66.8h1.1M411.2 74.4h1.1M409.0 92.2h1.1M399.9 61.8h1.1M408.2 57.0h1.1M408.1 57.0h1.1M410.9 78.1h1.1M408.6 94.0h1.1M408.8 94.2h1.1M406.6 95.4h1.1M409.8 86.0h1.1M407.4 95.7h1.1M407.6 95.8h1.1M408.7 92.9h1.1M398.7 65.2h1.1M398.8 69.7h1.1M405.5 57.5h1.1M406.2 57.0h1.1M408.9 92.4h1.1M411.4 77.5h1.1M411.2 77.4h1.1M401.9 96.0h1.1M409.7 59.2h1.1M405.7 60.7h1.1M398.6 69.2h1.1M410.4 60.4h1.1M403.7 96.2h1.1M409.6 82.8h1.1M411.0 77.0h1.1M411.2 77.3h1.1M409.9 71.9h1.1M410.2 61.4h1.1M407.7 94.6h1.1M410.9 76.2h1.1M411.4 76.5h1.1M406.2 57.8h1.1M410.6 63.3h1.1M410.8 74.0h1.1M403.2 96.2h1.1M409.6 59.4h1.1M405.6 59.1h1.1M409.4 59.2h1.1M398.3 73.4h1.1M398.0 73.3h1.1M403.5 59.1h1.1M405.1 60.4h1.1M405.1 60.4h1.1M407.9 58.3h1.1M408.1 58.1h1.1M398.4 76.6h1.1M398.5 68.0h1.1M402.1 95.5h1.1M401.0 93.0h1.1M401.2 61.0h1.1M401.0 61.3h1.1M407.1 59.7h1.1M406.7 57.4h1.1M406.5 57.9h1.1M408.7 91.8h1.1M398.7 67.0h1.1M406.5 59.0h1.1M406.9 59.3h1.1M399.1 80.7h1.1M398.0 74.2h1.1M411.1 65.2h1.1M403.6 95.6h1.1M399.3 80.0h1.1M399.1 63.5h1.1M407.5 61.4h1.1M398.8 71.7h1.1M403.3 59.7h1.1M410.8 74.7h1.1M408.9 59.1h1.1M406.8 58.6h1.1M406.5 58.2h1.1M407.7 93.1h1.1M402.8 59.9h1.1M404.8 60.0h1.1M409.4 89.2h1.1M409.4 89.0h1.1M404.4 59.4h1.1M404.4 59.5h1.1M409.7 87.5h1.1M403.7 59.6h1.1M402.6 95.7h1.1M408.3 59.3h1.1M408.0 59.3h1.1M407.8 59.2h1.1M404.8 94.8h1.1M400.0 62.1h1.1M400.3 62.3h1.1M398.9 76.1h1.1" stroke="rgb(3,108,248)" stroke-width="1.1" fill="none"/>
<path d="M408.1 60.7h1.1M402.4 95.4h1.1M407.7 61.6h1.1M402.4 60.8h1.1M404.4 60.6h1.1M410.5 78.3h1.1M399.2 78.5h1.1M409.8 88.1h1.1M409.4 88.0h1.1M409.1 61.4h1.1M409.0 61.0h1.1M408.5 60.8h1.1M410.5 69.9h1.1M403.7 95.2h1.1M409.2 83.9h1.1M404.4 60.4h1.1M411.1 67.2h1.1M403.2 60.2h1.1M410.3 80.0h1.1M411.1 68.2h1.1M408.5 61.0h1.1M409.3 61.6h1.1M399.4 64.3h1.1M406.7 62.3h1.1M404.4 94.9h1.1M410.5 75.8h1.1M408.2 61.7h1.1M398.4 75.4h1.1M398.6 75.9h1.1M406.0 62.0h1.1M399.3 70.6h1.1M403.4 95.2h1.1M408.6 61.9h1.1M409.0 90.4h1.1M406.9 93.1h1.1M410.6 76.7h1.1M410.7 76.5h1.1M398.5 84.8h1.1M402.2 94.2h1.1M403.9 94.7h1.1M409.2 86.1h1.1M399.1 64.4h1.1M399.3 71.4h1.1M399.4 71.1h1.1M406.2 93.6h1.1M403.7 60.6h1.1M400.0 89.8h1.1M403.3 94.7h1.1M408.9 62.3h1.1M398.6 85.1h1.1M408.1 62.3h1.1M402.2 93.7h1.1M402.2 93.4h1.1M409.5 71.6h1.1M405.5 93.4h1.1M405.8 93.6h1.1M399.3 83.0h1.1M409.9 75.0h1.1M401.8 92.6h1.1M402.8 94.1h1.1M409.1 86.5h1.1M409.2 89.5h1.1M398.6 74.7h1.1M409.8 73.8h1.1M409.7 73.6h1.1M409.6 73.7h1.1M399.3 68.7h1.1M399.3 68.6h1.1M399.2 71.9h1.1M410.1 78.8h1.1M403.1 94.2h1.1M399.3 76.4h1.1M400.9 91.9h1.1M410.2 75.5h1.1M403.8 60.9h1.1M399.6 79.8h1.1M402.3 93.3h1.1M399.1 65.9h1.1M399.3 65.5h1.1M409.6 80.6h1.1M409.8 71.2h1.1M399.6 88.1h1.1M409.4 74.1h1.1M408.9 87.2h1.1M410.0 77.5h1.1M406.2 93.3h1.1M406.1 93.1h1.1M398.9 75.9h1.1M410.5 68.3h1.1M410.6 68.3h1.1M399.3 83.5h1.1M409.0 82.3h1.1" stroke="rgb(0,146,245)" stroke-width="1.1" fill="none"/>
<path d="M409.4 89.0h1.1M410.1 64.0h1.1M407.0 92.4h1.1M410.8 66.4h1.1M406.6 92.5h1.1M406.8 92.7h1.1M409.6 80.2h1.1M409.4 87.7h1.1M399.6 70.1h1.1M399.5 78.6h1.1M409.7 70.5h1.1M409.6 74.9h1.1M408.9 88.5h1.1M409.0 63.4h1.1M409.5 63.8h1.1M402.3 61.5h1.1M409.0 81.7h1.1M404.6 93.4h1.1M404.7 61.9h1.1M407.9 90.5h1.1M403.8 93.3h1.1M404.2 93.2h1.1M409.5 76.2h1.1M399.1 86.8h1.1M408.4 84.3h1.1M406.0 92.5h1.1M409.9 79.1h1.1M408.8 85.4h1.1M408.6 85.4h1.1M403.0 61.5h1.1M403.2 61.5h1.1M410.0 64.8h1.1M399.9 63.4h1.1M402.4 92.7h1.1M402.7 92.6h1.1M399.9 88.7h1.1M400.2 81.2h1.1M401.7 91.8h1.1M398.9 74.6h1.1M399.1 74.7h1.1M409.8 78.4h1.1M400.0 80.0h1.1M402.3 92.0h1.1M399.6 77.2h1.1M399.5 77.1h1.1M408.9 81.0h1.1M410.1 68.6h1.1M408.5 83.2h1.1M399.5 83.3h1.1M399.2 73.5h1.1M401.4 90.8h1.1M405.2 92.8h1.1M405.4 92.9h1.1M408.9 86.4h1.1M401.5 61.9h1.1M398.9 85.0h1.1M399.1 85.1h1.1M399.1 85.0h1.1M409.3 75.9h1.1M403.9 92.5h1.1M404.2 92.5h1.1M409.2 63.6h1.1M400.3 79.2h1.1M409.8 69.8h1.1M409.5 69.4h1.1M409.8 69.8h1.1M408.3 90.2h1.1" stroke="rgb(0,187,234)" stroke-width="1.1" fill="none"/>
<path d="M400.3 82.2h1.1M399.5 65.2h1.1M408.5 89.3h1.1M410.4 67.7h1.1M410.1 65.7h1.1M407.5 90.5h1.1M400.3 63.5h1.1M400.3 63.7h1.1M400.4 70.9h1.1M402.2 62.0h1.1M399.5 68.1h1.1M399.5 87.0h1.1M403.3 62.1h1.1M409.1 70.7h1.1M399.5 74.6h1.1M401.2 90.0h1.1M409.4 78.0h1.1M400.5 81.0h1.1M400.5 80.3h1.1M400.7 80.4h1.1M408.9 88.2h1.1M409.3 78.9h1.1M403.6 92.3h1.1M403.7 91.9h1.1M400.4 78.0h1.1M408.7 75.3h1.1M405.2 92.4h1.1M400.6 63.0h1.1M399.5 73.0h1.1M399.6 73.3h1.1M409.6 64.9h1.1M408.9 76.8h1.1M408.7 81.7h1.1M399.7 73.6h1.1M399.7 66.8h1.1M400.2 76.9h1.1M406.1 91.6h1.1M406.1 91.9h1.1M408.6 72.1h1.1M408.5 72.4h1.1M400.7 81.9h1.1M400.1 77.3h1.1M400.0 77.4h1.1M400.3 75.8h1.1M402.5 91.5h1.1M400.3 69.3h1.1M408.2 85.0h1.1M407.9 84.6h1.1M408.8 77.3h1.1M406.8 91.1h1.1M406.7 91.0h1.1M409.4 68.7h1.1M407.9 85.6h1.1M401.8 90.8h1.1M407.8 90.1h1.1M407.4 90.1h1.1M408.5 81.4h1.1M404.1 62.8h1.1M404.1 62.8h1.1M400.2 83.1h1.1M400.4 83.3h1.1M400.3 83.1h1.1M402.4 91.3h1.1M402.4 91.1h1.1M402.0 91.3h1.1M408.1 83.4h1.1M405.7 91.5h1.1M405.5 91.5h1.1M405.6 63.1h1.1M400.2 74.8h1.1" stroke="rgb(2,220,215)" stroke-width="1.1" fill="none"/>
<path d="M408.4 80.6h1.1M408.6 80.4h1.1M408.6 80.4h1.1M400.3 72.8h1.1M400.4 72.8h1.1M408.4 76.2h1.1M409.7 68.0h1.1M401.1 80.8h1.1M408.3 75.6h1.1M400.3 68.5h1.1M400.1 68.7h1.1M408.4 71.0h1.1M400.4 70.1h1.1M401.0 80.3h1.1M400.6 75.7h1.1M400.6 75.7h1.1M400.2 64.6h1.1M407.5 63.7h1.1M401.1 81.2h1.1M404.8 91.4h1.1M400.8 76.1h1.1M400.0 73.4h1.1M399.6 84.9h1.1M408.9 79.8h1.1M408.3 75.2h1.1M400.1 73.6h1.1M408.8 79.3h1.1M399.6 85.8h1.1M399.4 85.9h1.1M401.2 63.4h1.1M401.3 63.4h1.1M401.2 63.2h1.1M409.7 65.6h1.1M408.1 77.2h1.1M400.8 76.6h1.1M405.2 63.2h1.1M402.6 62.6h1.1M402.6 62.5h1.1M400.6 77.9h1.1M400.6 78.4h1.1M400.4 78.2h1.1M400.7 78.1h1.1M400.6 82.5h1.1M400.9 82.5h1.1M401.9 90.2h1.1M408.3 74.9h1.1M408.5 64.1h1.1M408.6 64.0h1.1M408.6 64.1h1.1M400.4 69.5h1.1M407.6 89.6h1.1M407.6 89.4h1.1M407.5 89.5h1.1M409.9 67.0h1.1M400.9 89.2h1.1M400.9 77.9h1.1M409.3 64.9h1.1M409.6 66.1h1.1M408.1 88.2h1.1M408.6 70.7h1.1M408.9 70.8h1.1M406.9 90.1h1.1M408.2 74.1h1.1M408.0 77.5h1.1M408.3 73.2h1.1M408.3 73.3h1.1M401.3 79.0h1.1M400.6 74.3h1.1M400.7 73.9h1.1M400.8 72.6h1.1M400.9 72.9h1.1M401.3 75.4h1.1M408.1 78.0h1.1M408.1 78.2h1.1M401.1 75.9h1.1M400.8 73.8h1.1M400.9 73.4h1.1M400.7 73.6h1.1M400.8 73.3h1.1M401.8 80.2h1.1M400.2 67.4h1.1M400.1 67.5h1.1M406.2 90.9h1.1M407.5 77.4h1.1M407.8 77.4h1.1" stroke="rgb(17,220,167)" stroke-width="1.1" fill="none"/>
<path d="M401.7 63.2h1.1M401.2 78.4h1.1M408.3 71.6h1.1M408.4 78.5h1.1M404.4 91.0h1.1M404.0 91.0h1.1M408.1 63.9h1.1M408.0 64.0h1.1M409.3 68.8h1.1M401.2 71.3h1.1M407.7 84.9h1.1M401.9 89.6h1.1M401.7 79.5h1.1M408.1 79.0h1.1M409.0 65.3h1.1M400.3 66.3h1.1M400.0 86.9h1.1M400.1 86.7h1.1M408.4 79.6h1.1M407.9 79.7h1.1M406.8 90.2h1.1M401.2 78.3h1.1M407.8 75.3h1.1M407.5 86.3h1.1M407.5 86.4h1.1M400.2 66.9h1.1M401.4 72.2h1.1M407.7 83.6h1.1M401.4 70.0h1.1M408.2 71.0h1.1M402.1 90.3h1.1M401.2 73.4h1.1M401.6 79.3h1.1M401.3 82.7h1.1M408.8 64.8h1.1M407.6 88.6h1.1M407.5 88.5h1.1M407.5 88.7h1.1M409.0 68.0h1.1M401.4 73.1h1.1M407.4 78.0h1.1M401.5 74.9h1.1M400.1 86.2h1.1M405.7 63.5h1.1M407.2 77.1h1.1M407.2 77.3h1.1M409.3 65.6h1.1M407.6 87.4h1.1M407.5 87.8h1.1M402.7 63.0h1.1M401.6 76.5h1.1M401.6 76.8h1.1M401.5 78.4h1.1M407.7 82.7h1.1M408.9 67.5h1.1M401.0 69.6h1.1M401.7 89.2h1.1M401.4 89.4h1.1M406.0 90.4h1.1M407.8 78.5h1.1M400.4 85.4h1.1M401.2 88.3h1.1M407.6 74.0h1.1M407.7 74.1h1.1M407.6 74.2h1.1M407.0 75.8h1.1M407.1 89.1h1.1M401.5 78.3h1.1M401.9 78.0h1.1M404.5 90.5h1.1M408.9 65.9h1.1M409.2 66.3h1.1M403.5 90.5h1.1M409.2 67.0h1.1M407.9 79.0h1.1M401.8 77.5h1.1M401.7 73.4h1.1M400.7 87.1h1.1M400.8 87.3h1.1M400.9 87.2h1.1M400.4 87.1h1.1M404.1 90.8h1.1M404.0 90.8h1.1" stroke="rgb(31,220,118)" stroke-width="1.1" fill="none"/>
<path d="M401.3 83.4h1.1M407.2 64.2h1.1M400.9 68.0h1.1M407.9 81.5h1.1M401.8 71.7h1.1M401.8 71.6h1.1M405.3 63.6h1.1M407.7 72.0h1.1M407.8 80.2h1.1M407.7 81.0h1.1M407.5 81.0h1.1M402.9 90.3h1.1M407.8 80.6h1.1M402.1 75.6h1.1M401.5 63.8h1.1M401.8 63.8h1.1M402.0 89.4h1.1M401.9 89.9h1.1M401.5 71.2h1.1M405.7 90.1h1.1M400.5 65.1h1.1M408.2 64.5h1.1M402.4 81.6h1.1M406.8 77.2h1.1M402.1 78.6h1.1M407.1 78.8h1.1M401.6 82.7h1.1M402.5 80.3h1.1M402.2 77.1h1.1M406.5 76.0h1.1M406.5 76.1h1.1M402.6 79.8h1.1M402.6 79.9h1.1M406.6 64.2h1.1M404.5 63.6h1.1M406.9 84.8h1.1M402.0 77.8h1.1M402.3 77.5h1.1M406.3 89.5h1.1M407.4 79.3h1.1M401.3 87.6h1.1M408.8 68.7h1.1M407.2 84.3h1.1M400.4 86.7h1.1M402.7 79.2h1.1M402.2 73.8h1.1M402.0 73.4h1.1M402.4 73.7h1.1M407.4 71.1h1.1M407.7 71.4h1.1M406.5 89.3h1.1M407.3 86.2h1.1M400.5 84.6h1.1M400.7 84.4h1.1M400.6 84.8h1.1M401.8 70.2h1.1M407.3 87.9h1.1M407.0 88.3h1.1M407.1 88.3h1.1M402.0 82.3h1.1M402.0 82.4h1.1M402.0 82.0h1.1M407.0 79.5h1.1M407.3 79.7h1.1M402.1 63.7h1.1M407.3 86.5h1.1M402.8 81.3h1.1M402.3 72.7h1.1M404.7 90.2h1.1M404.8 90.2h1.1M404.2 63.8h1.1M407.3 82.9h1.1M406.5 78.7h1.1M406.8 78.6h1.1M402.3 89.4h1.1M406.5 75.4h1.1M403.4 89.9h1.1M408.5 65.8h1.1M400.9 67.0h1.1M404.1 90.4h1.1M402.6 76.1h1.1M402.6 78.0h1.1M402.8 78.4h1.1M406.4 77.8h1.1M402.5 89.6h1.1M402.6 89.7h1.1M402.5 89.7h1.1M407.2 82.9h1.1M407.3 82.9h1.1M407.0 82.7h1.1M406.1 76.5h1.1M402.3 71.9h1.1M408.0 69.7h1.1M401.8 83.3h1.1M402.6 77.0h1.1M400.9 85.4h1.1M400.5 86.1h1.1" stroke="rgb(53,221,84)" stroke-width="1.1" fill="none"/>
<path d="M406.6 79.1h1.1M401.0 64.4h1.1M401.4 64.4h1.1M403.4 63.5h1.1M403.9 63.7h1.1M403.8 63.9h1.1M406.9 74.0h1.1M403.1 80.2h1.1M407.1 82.3h1.1M407.1 81.3h1.1M407.7 70.7h1.1M406.9 81.4h1.1M406.9 81.7h1.1M407.2 81.4h1.1M400.8 85.6h1.1M406.5 88.6h1.1M406.5 88.5h1.1M401.5 64.2h1.1M401.7 64.3h1.1M401.4 64.3h1.1M402.9 74.6h1.1M402.6 74.6h1.1M403.0 80.9h1.1M406.5 79.5h1.1M407.2 73.5h1.1M406.0 78.8h1.1M406.0 78.7h1.1M406.1 89.0h1.1M408.5 66.3h1.1M407.1 72.6h1.1M407.1 72.9h1.1M407.0 72.0h1.1M401.3 84.0h1.1M401.3 84.2h1.1M401.0 87.3h1.1M402.9 74.3h1.1M403.0 78.2h1.1M405.0 89.8h1.1M405.0 89.8h1.1M406.1 79.0h1.1M402.7 73.2h1.1M406.9 71.4h1.1M408.6 66.7h1.1M408.8 66.4h1.1M405.7 77.2h1.1M403.2 77.5h1.1M405.5 78.0h1.1M405.8 78.3h1.1M405.4 78.3h1.1M405.6 78.0h1.1M403.2 89.7h1.1M403.4 76.9h1.1M403.2 77.0h1.1M403.9 78.9h1.1M402.8 82.1h1.1M402.8 82.3h1.1M403.9 79.4h1.1M402.4 88.6h1.1M402.4 70.6h1.1M403.0 76.5h1.1M408.2 69.2h1.1M402.7 72.0h1.1M406.4 88.3h1.1M403.4 80.0h1.1M403.2 76.4h1.1M403.8 78.2h1.1M403.8 78.2h1.1M401.6 83.9h1.1M406.5 80.8h1.1M401.4 65.3h1.1M402.6 89.3h1.1M405.1 78.1h1.1M407.0 71.4h1.1M405.0 77.5h1.1M405.1 77.9h1.1M405.0 78.6h1.1M406.1 75.7h1.1M403.8 77.4h1.1M406.5 84.5h1.1M406.7 83.9h1.1M406.6 84.2h1.1M406.9 84.3h1.1M406.7 84.2h1.1M405.6 88.9h1.1M405.9 89.3h1.1M406.8 85.2h1.1M404.0 89.9h1.1M403.1 75.8h1.1M403.4 75.6h1.1M402.4 71.9h1.1M402.8 71.6h1.1M402.6 71.4h1.1M406.5 83.6h1.1M406.8 83.6h1.1M404.9 64.1h1.1M404.3 78.1h1.1M404.3 78.2h1.1M404.1 78.1h1.1M405.3 77.0h1.1M401.1 84.8h1.1M404.8 78.2h1.1M404.5 78.4h1.1M403.5 80.5h1.1M402.2 83.1h1.1M402.4 83.3h1.1M406.6 74.8h1.1M406.8 85.7h1.1M403.4 77.2h1.1M404.5 79.4h1.1M406.0 79.9h1.1M406.8 83.2h1.1M401.2 86.4h1.1M404.1 77.8h1.1M406.5 87.3h1.1M408.0 65.8h1.1M408.4 65.5h1.1M408.0 65.7h1.1M406.5 86.5h1.1M406.4 86.5h1.1M406.5 81.4h1.1M406.5 81.8h1.1M405.2 79.9h1.1" stroke="rgb(86,225,70)" stroke-width="1.1" fill="none"/>
<path d="M404.4 79.9h1.1M404.2 79.9h1.1M406.8 81.9h1.1M407.8 65.0h1.1M406.6 64.8h1.1M406.5 64.5h1.1M404.5 77.4h1.1M401.1 67.9h1.1M403.6 80.9h1.1M403.6 81.2h1.1M401.8 64.5h1.1M401.6 64.6h1.1M402.5 71.1h1.1M402.6 70.9h1.1M405.9 80.5h1.1M403.1 72.9h1.1M403.3 73.0h1.1M403.3 82.1h1.1M406.7 74.1h1.1M406.7 74.0h1.1M403.0 74.1h1.1M404.4 80.0h1.1M401.3 85.3h1.1M403.0 89.3h1.1M404.0 80.4h1.1M404.3 80.5h1.1M404.3 80.8h1.1M404.1 80.8h1.1M406.1 75.0h1.1M406.0 74.9h1.1M406.2 74.9h1.1M404.7 76.6h1.1M404.6 76.7h1.1M400.9 86.2h1.1M406.4 72.6h1.1M406.5 72.6h1.1M402.6 64.2h1.1M402.0 69.9h1.1M402.3 69.6h1.1M407.8 69.9h1.1M407.4 69.5h1.1M407.5 69.6h1.1M406.4 71.5h1.1M406.5 71.6h1.1M406.5 71.6h1.1M406.8 73.8h1.1M406.5 73.4h1.1M406.5 73.3h1.1M402.5 88.6h1.1M402.9 88.6h1.1M406.3 88.1h1.1M404.3 63.9h1.1M404.3 64.2h1.1M406.2 81.0h1.1M403.6 81.9h1.1M403.6 81.6h1.1M403.6 81.8h1.1M401.3 67.3h1.1M401.1 67.2h1.1M405.2 76.1h1.1M408.0 67.9h1.1M405.5 75.8h1.1M405.4 75.6h1.1M408.2 66.2h1.1M405.9 80.6h1.1M405.4 80.7h1.1M404.8 89.1h1.1M403.9 75.6h1.1M401.0 66.1h1.1M403.2 71.7h1.1M403.6 64.1h1.1M406.3 64.7h1.1M406.0 64.6h1.1M406.2 64.5h1.1M402.5 83.1h1.1M402.8 83.4h1.1M403.9 89.3h1.1M401.3 66.4h1.1M400.9 66.6h1.1M401.4 66.5h1.1M404.1 81.1h1.1M405.1 80.7h1.1M405.0 80.7h1.1M403.0 82.8h1.1M406.3 81.8h1.1M404.4 76.2h1.1M404.7 76.4h1.1M404.7 76.0h1.1M406.1 83.3h1.1M406.3 82.9h1.1M406.2 82.9h1.1M407.1 65.3h1.1M403.6 82.3h1.1M403.8 82.3h1.1M406.2 87.8h1.1M405.6 81.0h1.1M405.5 81.0h1.1M405.8 81.0h1.1M403.5 75.3h1.1M403.7 75.0h1.1M403.7 75.4h1.1M407.1 70.1h1.1M401.4 68.4h1.1M408.2 67.0h1.1M408.0 67.3h1.1M404.0 81.9h1.1M403.1 71.2h1.1M401.8 84.8h1.1M403.6 73.0h1.1M406.3 85.2h1.1M407.6 65.8h1.1M407.6 69.0h1.1" stroke="rgb(119,230,56)" stroke-width="1.1" fill="none"/>
<path d="M404.9 75.5h1.1M405.3 75.8h1.1M404.3 75.8h1.1M402.9 88.5h1.1M406.0 87.2h1.1M406.2 87.2h1.1M405.9 86.9h1.1M403.7 74.7h1.1M405.5 64.5h1.1M405.7 64.9h1.1M405.7 64.5h1.1M406.4 85.6h1.1M405.9 85.9h1.1M406.2 71.8h1.1M405.7 81.6h1.1M405.4 81.5h1.1M403.6 73.7h1.1M403.7 73.8h1.1M403.8 73.7h1.1M402.9 87.9h1.1M405.9 88.0h1.1M403.9 71.8h1.1M403.7 71.8h1.1M403.7 71.5h1.1M401.7 86.8h1.1M401.6 86.8h1.1M403.5 74.4h1.1M406.1 86.0h1.1M404.5 75.6h1.1M406.1 74.1h1.1M406.2 73.9h1.1M404.3 82.1h1.1M405.9 82.2h1.1M405.2 81.5h1.1M402.6 83.6h1.1M406.0 73.0h1.1M406.0 73.4h1.1M405.8 82.9h1.1M406.2 71.2h1.1M404.8 88.7h1.1M406.2 73.7h1.1M405.9 73.8h1.1M406.4 73.5h1.1M403.9 88.8h1.1M403.8 88.5h1.1M403.6 88.7h1.1M401.5 84.9h1.1M403.3 70.5h1.1M404.2 72.9h1.1M404.2 74.9h1.1M401.8 67.4h1.1M401.4 67.5h1.1M401.5 67.5h1.1M401.9 67.9h1.1M405.6 83.5h1.1M405.6 83.6h1.1M404.5 82.3h1.1M406.4 65.1h1.1M406.8 64.9h1.1M402.2 68.7h1.1M405.1 82.3h1.1M404.9 82.0h1.1M404.2 88.4h1.1M404.3 88.6h1.1M402.8 69.5h1.1M407.4 68.6h1.1M405.6 72.1h1.1M401.8 85.9h1.1M401.9 86.0h1.1M407.1 69.7h1.1M404.2 71.6h1.1M405.6 71.9h1.1M405.6 71.8h1.1M402.8 64.8h1.1M401.5 65.6h1.1M405.0 75.0h1.1M405.5 84.3h1.1M405.2 82.8h1.1M405.3 82.7h1.1M405.7 74.5h1.1M405.5 74.7h1.1M401.9 87.1h1.1M401.5 85.6h1.1M405.5 87.5h1.1M405.5 87.5h1.1M405.4 87.8h1.1M405.9 87.6h1.1M404.5 82.7h1.1M404.7 72.3h1.1M404.6 72.1h1.1M405.5 72.6h1.1M404.3 74.8h1.1M405.2 72.3h1.1M405.1 83.3h1.1M404.7 71.6h1.1M406.6 69.9h1.1M406.5 70.1h1.1M404.9 71.7h1.1M405.8 71.3h1.1M403.4 88.2h1.1M406.0 70.8h1.1M402.6 87.6h1.1M403.2 83.6h1.1M407.0 65.5h1.1M407.2 65.8h1.1M404.0 74.1h1.1M404.2 74.2h1.1M404.1 74.1h1.1M404.3 83.0h1.1M401.6 67.0h1.1M401.6 67.3h1.1M404.2 71.3h1.1M404.5 83.3h1.1M404.8 83.1h1.1M404.6 83.1h1.1M404.7 83.1h1.1M401.9 65.1h1.1M402.1 65.2h1.1M402.4 65.0h1.1M402.0 65.4h1.1M402.3 64.9h1.1M403.3 69.9h1.1M402.9 70.1h1.1M404.1 64.9h1.1M404.0 64.7h1.1M407.7 68.2h1.1M401.8 66.0h1.1M401.6 66.2h1.1M403.5 64.6h1.1" stroke="rgb(153,234,42)" stroke-width="1.1" fill="none"/>
<path d="M402.5 69.1h1.1M402.5 69.2h1.1M402.4 69.0h1.1M404.6 73.0h1.1M402.6 84.3h1.1M405.1 71.2h1.1M405.0 70.9h1.1M407.4 66.4h1.1M405.3 74.7h1.1M403.8 70.7h1.1M401.7 66.4h1.1M402.1 67.9h1.1M404.5 74.9h1.1M404.6 74.6h1.1M404.5 87.9h1.1M405.1 73.4h1.1M405.3 73.4h1.1M407.6 67.5h1.1M407.7 67.9h1.1M407.7 67.7h1.1M405.6 85.7h1.1M403.7 83.7h1.1M407.6 66.9h1.1M407.7 67.0h1.1M407.4 67.2h1.1M405.8 86.8h1.1M405.5 86.9h1.1M407.1 69.0h1.1M407.0 69.2h1.1M402.1 86.5h1.1M402.2 86.7h1.1M401.9 86.8h1.1M405.2 84.3h1.1M404.6 83.7h1.1M404.9 74.2h1.1M404.6 74.2h1.1M404.4 74.4h1.1M404.6 74.2h1.1M404.4 74.0h1.1M404.2 88.1h1.1M404.3 87.9h1.1M404.1 88.1h1.1M405.1 73.6h1.1M405.4 73.6h1.1M405.1 73.4h1.1M405.4 73.5h1.1M405.3 87.6h1.1M404.1 70.5h1.1M404.3 70.5h1.1M404.0 70.7h1.1M404.1 70.9h1.1M406.2 70.2h1.1M405.9 70.1h1.1M403.0 69.9h1.1M403.3 69.5h1.1M403.0 69.5h1.1M402.0 84.9h1.1M406.5 69.8h1.1M403.3 87.7h1.1M403.3 87.8h1.1M405.4 65.2h1.1M405.6 65.3h1.1M402.4 87.4h1.1M402.6 87.0h1.1M402.5 68.7h1.1M402.7 68.6h1.1M402.9 84.0h1.1M403.0 84.0h1.1M403.9 70.1h1.1M403.7 70.1h1.1M403.6 70.3h1.1M402.9 65.2h1.1M402.5 65.1h1.1M407.1 66.3h1.1M402.3 86.1h1.1M402.1 67.8h1.1M402.1 67.5h1.1M404.8 84.1h1.1M407.3 68.5h1.1M405.0 87.1h1.1M404.6 87.8h1.1M404.8 87.4h1.1M404.8 87.6h1.1M405.0 85.3h1.1M405.1 85.0h1.1M405.3 85.3h1.1M404.3 84.2h1.1M405.1 65.0h1.1M405.1 64.9h1.1" stroke="rgb(191,231,26)" stroke-width="1.1" fill="none"/>
<path d="M404.3 87.7h1.1M403.4 65.1h1.1M402.4 67.0h1.1M402.3 67.0h1.1M405.3 86.8h1.1M405.2 70.3h1.1M405.2 85.4h1.1M407.0 66.6h1.1M404.9 84.6h1.1M403.4 69.5h1.1M404.6 65.1h1.1M406.3 69.6h1.1M406.2 69.5h1.1M406.2 69.9h1.1M406.9 69.4h1.1M406.6 69.1h1.1M405.3 86.0h1.1M405.3 86.4h1.1M407.2 68.4h1.1M407.0 68.1h1.1M407.1 68.0h1.1M407.3 68.3h1.1M406.3 65.5h1.1M406.2 65.8h1.1M401.9 66.8h1.1M402.4 66.5h1.1M402.2 66.7h1.1M403.9 65.3h1.1M404.1 65.1h1.1M404.0 65.3h1.1M404.2 65.2h1.1M404.2 65.1h1.1M403.1 84.6h1.1M402.9 85.3h1.1M402.9 85.2h1.1M402.9 84.9h1.1M404.6 87.0h1.1M407.0 67.9h1.1M402.5 65.8h1.1M406.7 66.1h1.1M406.4 66.3h1.1M403.1 68.7h1.1M404.2 84.8h1.1M404.4 84.6h1.1M402.8 85.9h1.1M403.6 84.9h1.1M404.8 85.1h1.1M404.1 69.9h1.1M402.7 85.8h1.1M402.7 85.8h1.1M403.9 87.4h1.1M403.9 87.3h1.1M404.0 87.0h1.1M403.7 69.1h1.1M405.7 65.8h1.1M404.9 86.7h1.1M405.4 69.9h1.1M404.4 69.7h1.1M406.5 68.6h1.1M406.8 68.4h1.1M403.3 86.8h1.1M404.7 85.5h1.1M405.9 69.2h1.1M406.0 68.9h1.1M402.9 85.0h1.1M404.8 86.3h1.1M403.1 65.6h1.1M402.7 65.9h1.1M402.6 66.3h1.1" stroke="rgb(231,227,10)" stroke-width="1.1" fill="none"/>
<path d="M403.0 68.3h1.1M403.4 68.1h1.1M403.1 68.0h1.1M404.3 85.3h1.1M403.9 84.9h1.1M406.5 66.6h1.1M405.2 65.6h1.1M403.5 85.2h1.1M403.7 85.2h1.1M403.9 85.3h1.1M403.9 86.7h1.1M404.1 86.4h1.1M406.0 66.3h1.1M403.9 69.2h1.1M404.3 68.9h1.1M404.4 69.0h1.1M402.8 66.6h1.1M402.6 66.9h1.1M403.5 86.5h1.1M403.8 86.6h1.1M403.2 85.9h1.1M403.2 86.1h1.1M403.3 86.2h1.1M403.0 85.6h1.1M402.9 85.9h1.1M406.8 68.0h1.1M403.5 65.7h1.1M405.5 69.2h1.1M405.5 69.0h1.1M404.6 65.7h1.1M404.1 85.5h1.1M406.8 67.0h1.1M406.8 66.9h1.1M406.9 66.9h1.1M404.8 69.2h1.1M404.6 69.1h1.1M404.7 69.2h1.1M406.8 67.8h1.1M405.2 69.1h1.1M405.4 69.2h1.1M404.9 69.3h1.1M403.7 85.6h1.1M403.5 85.5h1.1M403.5 85.4h1.1M403.4 85.8h1.1M403.5 85.7h1.1M403.6 86.0h1.1M403.7 86.2h1.1M403.0 66.4h1.1M405.6 66.4h1.1M404.2 68.8h1.1M404.3 68.8h1.1M405.9 66.6h1.1M406.0 66.4h1.1M403.1 67.3h1.1M403.0 67.1h1.1M403.0 66.6h1.1M403.0 66.6h1.1M405.9 68.3h1.1M406.1 68.4h1.1M403.4 66.1h1.1M403.9 66.0h1.1M403.5 66.4h1.1M405.3 68.8h1.1M405.3 68.8h1.1M403.9 67.6h1.1M403.7 67.4h1.1M403.7 67.8h1.1" stroke="rgb(255,203,0)" stroke-width="1.1" fill="none"/>
<path d="M406.4 67.1h1.1M404.2 68.1h1.1M404.2 67.9h1.1M404.8 66.2h1.1M406.3 67.5h1.1M406.1 67.7h1.1M405.5 66.7h1.1M403.7 67.3h1.1M403.9 67.4h1.1M403.7 66.9h1.1M405.5 68.1h1.1M405.2 68.0h1.1M405.4 66.9h1.1M404.9 66.7h1.1M405.0 66.8h1.1M404.3 66.6h1.1M403.9 66.8h1.1M405.6 67.2h1.1M405.5 67.2h1.1M405.5 67.7h1.1M404.7 66.7h1.1M404.8 66.4h1.1M404.8 66.7h1.1M404.6 66.5h1.1M404.4 67.3h1.1M404.7 67.5h1.1M405.2 67.7h1.1M405.0 67.7h1.1M405.2 67.1h1.1M404.8 67.2h1.1" stroke="rgb(255,150,0)" stroke-width="1.1" fill="none"/>
<rect x="389.3" y="39.4" width="44.2" height="36" fill="none" stroke="#2a2a2a" stroke-width="1.15"/>
<rect x="389.3" y="78.2" width="44.2" height="56.4" fill="none" stroke="#2a2a2a" stroke-width="1.15"/>
<path d="M396 134.2h18" stroke="#2c2cc0" stroke-width="1" stroke-dasharray="2 1.2"/>
<text x="435.6" y="44.3" font-size="6.3" font-weight="bold" text-anchor="start" fill="#222" >47.9%</text>
<text x="435.6" y="84.6" font-size="6.3" font-weight="bold" text-anchor="start" fill="#222" >52.1%</text>
<text transform="translate(366.6,81.5) rotate(-90)" font-size="11" font-weight="bold" text-anchor="middle" fill="#161616">hMICL</text>
<text x="440.6" y="162.3" font-size="11" font-weight="bold" text-anchor="middle" fill="#161616" >SSC-A</text>
</g>
<g id="pd">
<line x1="39.8" y1="179.5" x2="39.8" y2="298.7" stroke="#222" stroke-width="1.1" />
<line x1="39.3" y1="298.2" x2="157.9" y2="298.2" stroke="#222" stroke-width="1.1" />
<line x1="36.4" y1="298.2" x2="39.8" y2="298.2" stroke="#222" stroke-width="0.9" />
<text x="35.6" y="300.1" font-size="5.2" font-weight="bold" text-anchor="end" fill="#222" >0</text>
<line x1="36.4" y1="274.6" x2="39.8" y2="274.6" stroke="#222" stroke-width="0.9" />
<text x="35.6" y="276.5" font-size="5.2" font-weight="bold" text-anchor="end" fill="#222" >100</text>
<line x1="36.4" y1="250.9" x2="39.8" y2="250.9" stroke="#222" stroke-width="0.9" />
<text x="35.6" y="252.8" font-size="5.2" font-weight="bold" text-anchor="end" fill="#222" >200</text>
<line x1="36.4" y1="227.3" x2="39.8" y2="227.3" stroke="#222" stroke-width="0.9" />
<text x="35.6" y="229.2" font-size="5.2" font-weight="bold" text-anchor="end" fill="#222" >300</text>
<line x1="36.4" y1="203.6" x2="39.8" y2="203.6" stroke="#222" stroke-width="0.9" />
<text x="35.6" y="205.5" font-size="5.2" font-weight="bold" text-anchor="end" fill="#222" >400</text>
<line x1="36.4" y1="180.0" x2="39.8" y2="180.0" stroke="#222" stroke-width="0.9" />
<text x="35.6" y="181.9" font-size="5.2" font-weight="bold" text-anchor="end" fill="#222" >500</text>
<line x1="39.8" y1="298.2" x2="39.8" y2="300.8" stroke="#222" stroke-width="0.9" />
<text x="39.8" y="306.6" font-size="5.2" font-weight="bold" text-anchor="middle" fill="#222" >0%</text>
<line x1="79.0" y1="298.2" x2="79.0" y2="300.8" stroke="#222" stroke-width="0.9" />
<text x="79.0" y="306.6" font-size="5.2" font-weight="bold" text-anchor="middle" fill="#222" >20%</text>
<line x1="118.2" y1="298.2" x2="118.2" y2="300.8" stroke="#222" stroke-width="0.9" />
<text x="118.2" y="306.6" font-size="5.2" font-weight="bold" text-anchor="middle" fill="#222" >40%</text>
<line x1="157.4" y1="298.2" x2="157.4" y2="300.8" stroke="#222" stroke-width="0.9" />
<text x="157.4" y="306.6" font-size="5.2" font-weight="bold" text-anchor="middle" fill="#222" >60%</text>
<text transform="translate(22.6,238.3) rotate(-90)" font-size="6.1" font-weight="bold" text-anchor="middle" fill="#222">White Blood Cell count</text>
<text x="98.4" y="316.2" font-size="6.3" font-weight="bold" text-anchor="middle" fill="#222" >MpP / CD34+CD38+</text>
<text x="154.3" y="183.5" font-size="5.75" font-weight="bold" text-anchor="end" fill="#222" >Spearman's ρ = 0.47</text>
<text x="154.3" y="190.4" font-size="5.75" font-weight="bold" text-anchor="end" fill="#222" >p = 0.049</text>
<circle cx="57.8" cy="233.4" r="1.5" fill="#fff" stroke="#2a2a2a" stroke-width="0.95"/>
<circle cx="74.1" cy="249.1" r="1.5" fill="#fff" stroke="#2a2a2a" stroke-width="0.95"/>
<circle cx="77.4" cy="254.5" r="1.5" fill="#fff" stroke="#2a2a2a" stroke-width="0.95"/>
<circle cx="57.7" cy="275.5" r="1.5" fill="#fff" stroke="#2a2a2a" stroke-width="0.95"/>
<circle cx="68.6" cy="272.8" r="1.5" fill="#fff" stroke="#2a2a2a" stroke-width="0.95"/>
<circle cx="68.6" cy="279.1" r="1.5" fill="#fff" stroke="#2a2a2a" stroke-width="0.95"/>
<circle cx="70.0" cy="282.6" r="1.5" fill="#fff" stroke="#2a2a2a" stroke-width="0.95"/>
<circle cx="73.3" cy="283.7" r="1.5" fill="#fff" stroke="#2a2a2a" stroke-width="0.95"/>
<circle cx="63.2" cy="284.5" r="1.5" fill="#fff" stroke="#2a2a2a" stroke-width="0.95"/>
<circle cx="59.1" cy="291.4" r="1.5" fill="#fff" stroke="#2a2a2a" stroke-width="0.95"/>
<circle cx="87.8" cy="276.7" r="1.5" fill="#fff" stroke="#2a2a2a" stroke-width="0.95"/>
<circle cx="99.1" cy="202.3" r="1.5" fill="#fff" stroke="#2a2a2a" stroke-width="0.95"/>
<circle cx="116.0" cy="209.1" r="1.5" fill="#fff" stroke="#2a2a2a" stroke-width="0.95"/>
<circle cx="123.1" cy="221.4" r="1.5" fill="#fff" stroke="#2a2a2a" stroke-width="0.95"/>
<circle cx="105.6" cy="244.4" r="1.5" fill="#fff" stroke="#2a2a2a" stroke-width="0.95"/>
<circle cx="107.0" cy="247.5" r="1.5" fill="#fff" stroke="#2a2a2a" stroke-width="0.95"/>
<circle cx="133.3" cy="251.9" r="1.5" fill="#fff" stroke="#2a2a2a" stroke-width="0.95"/>
<circle cx="114.4" cy="283.9" r="1.5" fill="#fff" stroke="#2a2a2a" stroke-width="0.95"/>
</g>
<g id="pe">
<line x1="226.2" y1="191.2" x2="226.2" y2="298.2" stroke="#222" stroke-width="1.1" />
<line x1="225.7" y1="297.7" x2="331.5" y2="297.7" stroke="#222" stroke-width="1.1" />
<line x1="222.6" y1="297.7" x2="226.2" y2="297.7" stroke="#222" stroke-width="0.9" />
<text x="222.0" y="299.3" font-size="4.5" font-weight="bold" text-anchor="end" fill="#222" >0%</text>
<line x1="222.6" y1="282.6" x2="226.2" y2="282.6" stroke="#222" stroke-width="0.9" />
<text x="222.0" y="284.2" font-size="4.5" font-weight="bold" text-anchor="end" fill="#222" >10%</text>
<line x1="222.6" y1="267.4" x2="226.2" y2="267.4" stroke="#222" stroke-width="0.9" />
<text x="222.0" y="269.0" font-size="4.5" font-weight="bold" text-anchor="end" fill="#222" >20%</text>
<line x1="222.6" y1="252.3" x2="226.2" y2="252.3" stroke="#222" stroke-width="0.9" />
<text x="222.0" y="253.9" font-size="4.5" font-weight="bold" text-anchor="end" fill="#222" >30%</text>
<line x1="222.6" y1="237.1" x2="226.2" y2="237.1" stroke="#222" stroke-width="0.9" />
<text x="222.0" y="238.7" font-size="4.5" font-weight="bold" text-anchor="end" fill="#222" >40%</text>
<line x1="222.6" y1="222.0" x2="226.2" y2="222.0" stroke="#222" stroke-width="0.9" />
<text x="222.0" y="223.6" font-size="4.5" font-weight="bold" text-anchor="end" fill="#222" >50%</text>
<line x1="222.6" y1="206.8" x2="226.2" y2="206.8" stroke="#222" stroke-width="0.9" />
<text x="222.0" y="208.4" font-size="4.5" font-weight="bold" text-anchor="end" fill="#222" >60%</text>
<line x1="222.6" y1="191.7" x2="226.2" y2="191.7" stroke="#222" stroke-width="0.9" />
<text x="222.0" y="193.3" font-size="4.5" font-weight="bold" text-anchor="end" fill="#222" >70%</text>
<text transform="translate(204.8,232.9) rotate(-90)" font-size="5.75" font-weight="bold" text-anchor="middle" fill="#222">MpP / CD34+CD38+</text>
<text y="184.3" font-weight="bold" fill="#222"><tspan x="252.2" font-size="6.5">MpP</tspan><tspan x="265.8" y="182.6" font-size="4.6" letter-spacing="0.15">LOW</tspan><tspan x="278.6" y="184.3" font-size="6.5"> patients</tspan></text>
<text transform="translate(237.6,303.5) rotate(-45)" font-size="5.2" font-weight="bold" text-anchor="end" fill="#444">Diagnosis</text>
<text transform="translate(258.4,303.5) rotate(-45)" font-size="5.2" font-weight="bold" text-anchor="end" fill="#444">3 months</text>
<text transform="translate(279.6,303.5) rotate(-45)" font-size="5.2" font-weight="bold" text-anchor="end" fill="#444">6 months</text>
<text transform="translate(322.0,303.5) rotate(-45)" font-size="5.2" font-weight="bold" text-anchor="end" fill="#444">12+ months</text>
<line x1="226.2" y1="270.8" x2="331.5" y2="270.8" stroke="#444" stroke-width="0.9" stroke-dasharray="2.2 1.5"/>
<text x="194.4" y="278.1" font-size="3.2" font-weight="normal" text-anchor="start" fill="#777" >90% RR (LB)</text>
<line x1="211.7" y1="273.4" x2="223.0" y2="269.6" stroke="#555" stroke-width="0.55" />
<line x1="236.8" y1="270.7" x2="321.2" y2="225.5" stroke="#a0a0a0" stroke-width="0.8" />
<line x1="236.8" y1="277.3" x2="321.2" y2="238.7" stroke="#a0a0a0" stroke-width="0.8" />
<line x1="236.8" y1="283.5" x2="321.2" y2="247.6" stroke="#a0a0a0" stroke-width="0.8" />
<line x1="236.8" y1="288.3" x2="321.2" y2="252.9" stroke="#a0a0a0" stroke-width="0.8" />
<path d="M236.8 277.3L257.6 261L278.8 243.1" fill="none" stroke="#1a1a1a" stroke-width="1.35"/>
<path d="M236.8 274.9L257.6 288.3L278.8 257.8" fill="none" stroke="#1a1a1a" stroke-width="1.25"/>
<path d="M236.8 288.3L257.6 266.8" fill="none" stroke="#1a1a1a" stroke-width="1.25"/>
<path d="M236.8 280.5L257.6 261" fill="none" stroke="#1a1a1a" stroke-width="1.1"/>
<circle cx="236.8" cy="270.7" r="1.5" fill="#fff" stroke="#2a2a2a" stroke-width="0.95"/>
<circle cx="236.8" cy="274.9" r="1.5" fill="#fff" stroke="#2a2a2a" stroke-width="0.95"/>
<circle cx="236.8" cy="277.3" r="1.5" fill="#fff" stroke="#2a2a2a" stroke-width="0.95"/>
<circle cx="236.8" cy="280.5" r="1.5" fill="#fff" stroke="#2a2a2a" stroke-width="0.95"/>
<circle cx="236.8" cy="283.5" r="1.5" fill="#fff" stroke="#2a2a2a" stroke-width="0.95"/>
<circle cx="236.8" cy="288.3" r="1.5" fill="#fff" stroke="#2a2a2a" stroke-width="0.95"/>
<circle cx="257.6" cy="261.0" r="1.5" fill="#fff" stroke="#2a2a2a" stroke-width="0.95"/>
<circle cx="257.6" cy="266.8" r="1.5" fill="#fff" stroke="#2a2a2a" stroke-width="0.95"/>
<circle cx="257.6" cy="288.3" r="1.5" fill="#fff" stroke="#2a2a2a" stroke-width="0.95"/>
<circle cx="278.8" cy="243.1" r="1.5" fill="#fff" stroke="#2a2a2a" stroke-width="0.95"/>
<circle cx="278.8" cy="257.8" r="1.5" fill="#fff" stroke="#2a2a2a" stroke-width="0.95"/>
<circle cx="321.2" cy="225.5" r="1.5" fill="#fff" stroke="#2a2a2a" stroke-width="0.95"/>
<circle cx="321.2" cy="238.7" r="1.5" fill="#fff" stroke="#2a2a2a" stroke-width="0.95"/>
<circle cx="321.2" cy="247.6" r="1.5" fill="#fff" stroke="#2a2a2a" stroke-width="0.95"/>
<circle cx="321.2" cy="252.9" r="1.5" fill="#fff" stroke="#2a2a2a" stroke-width="0.95"/>
</g>
<g id="pf">
<line x1="398.4" y1="191.2" x2="398.4" y2="298.2" stroke="#222" stroke-width="1.1" />
<line x1="397.9" y1="297.7" x2="503.7" y2="297.7" stroke="#222" stroke-width="1.1" />
<line x1="394.8" y1="297.7" x2="398.4" y2="297.7" stroke="#222" stroke-width="0.9" />
<text x="394.2" y="299.3" font-size="4.5" font-weight="bold" text-anchor="end" fill="#222" >0%</text>
<line x1="394.8" y1="282.6" x2="398.4" y2="282.6" stroke="#222" stroke-width="0.9" />
<text x="394.2" y="284.2" font-size="4.5" font-weight="bold" text-anchor="end" fill="#222" >10%</text>
<line x1="394.8" y1="267.4" x2="398.4" y2="267.4" stroke="#222" stroke-width="0.9" />
<text x="394.2" y="269.0" font-size="4.5" font-weight="bold" text-anchor="end" fill="#222" >20%</text>
<line x1="394.8" y1="252.3" x2="398.4" y2="252.3" stroke="#222" stroke-width="0.9" />
<text x="394.2" y="253.9" font-size="4.5" font-weight="bold" text-anchor="end" fill="#222" >30%</text>
<line x1="394.8" y1="237.1" x2="398.4" y2="237.1" stroke="#222" stroke-width="0.9" />
<text x="394.2" y="238.7" font-size="4.5" font-weight="bold" text-anchor="end" fill="#222" >40%</text>
<line x1="394.8" y1="222.0" x2="398.4" y2="222.0" stroke="#222" stroke-width="0.9" />
<text x="394.2" y="223.6" font-size="4.5" font-weight="bold" text-anchor="end" fill="#222" >50%</text>
<line x1="394.8" y1="206.8" x2="398.4" y2="206.8" stroke="#222" stroke-width="0.9" />
<text x="394.2" y="208.4" font-size="4.5" font-weight="bold" text-anchor="end" fill="#222" >60%</text>
<line x1="394.8" y1="191.7" x2="398.4" y2="191.7" stroke="#222" stroke-width="0.9" />
<text x="394.2" y="193.3" font-size="4.5" font-weight="bold" text-anchor="end" fill="#222" >70%</text>
<text transform="translate(377.0,232.9) rotate(-90)" font-size="5.75" font-weight="bold" text-anchor="middle" fill="#222">MpP / CD34+CD38+</text>
<text y="184.3" font-weight="bold" fill="#222"><tspan x="423.8" font-size="6.5">MpP</tspan><tspan x="437.2" y="182.6" font-size="4.6" letter-spacing="0.3">HIGH</tspan><tspan x="452.0" y="184.3" font-size="6.5"> patients</tspan></text>
<text transform="translate(410.0,303.5) rotate(-45)" font-size="5.2" font-weight="bold" text-anchor="end" fill="#444">Diagnosis</text>
<text transform="translate(431.1,303.5) rotate(-45)" font-size="5.2" font-weight="bold" text-anchor="end" fill="#444">3 months</text>
<text transform="translate(452.4,303.5) rotate(-45)" font-size="5.2" font-weight="bold" text-anchor="end" fill="#444">6 months</text>
<text transform="translate(494.7,303.5) rotate(-45)" font-size="5.2" font-weight="bold" text-anchor="end" fill="#444">12+ months</text>
<line x1="398.4" y1="270.8" x2="503.7" y2="270.8" stroke="#444" stroke-width="0.9" stroke-dasharray="2.2 1.5"/>
<text x="366.6" y="278.1" font-size="3.2" font-weight="normal" text-anchor="start" fill="#777" >90% RR (LB)</text>
<line x1="383.9" y1="273.4" x2="395.2" y2="269.6" stroke="#555" stroke-width="0.55" />
<line x1="409.2" y1="232.4" x2="493.9" y2="241.1" stroke="#a0a0a0" stroke-width="0.8" stroke-dasharray="2.5 1.2"/>
<line x1="409.2" y1="238.1" x2="493.9" y2="247.1" stroke="#a0a0a0" stroke-width="0.8" stroke-dasharray="2.5 1.2"/>
<line x1="409.2" y1="251.0" x2="493.9" y2="241.7" stroke="#a0a0a0" stroke-width="0.8" stroke-dasharray="2.5 1.2"/>
<line x1="409.2" y1="260.5" x2="493.9" y2="231.2" stroke="#a0a0a0" stroke-width="0.8" stroke-dasharray="2.5 1.2"/>
<line x1="409.2" y1="260.5" x2="493.9" y2="267.3" stroke="#a0a0a0" stroke-width="0.8" stroke-dasharray="2.5 1.2"/>
<path d="M409.2 224.8L430.3 242.8L451.6 255.7" fill="none" stroke="#1a1a1a" stroke-width="1.25"/>
<path d="M409.2 246.4L451.6 203" fill="none" stroke="#1a1a1a" stroke-width="1.25"/>
<path d="M409.2 249.5L430.3 278.5L451.6 240.1" fill="none" stroke="#1a1a1a" stroke-width="1.25"/>
<path d="M409.2 252L430.3 281.5" fill="none" stroke="#1a1a1a" stroke-width="1.25"/>
<path d="M409.2 260.6L430.3 284.3L451.6 285" fill="none" stroke="#1a1a1a" stroke-width="1.25"/>
<path d="M409.2 268.5L430.3 278.5" fill="none" stroke="#1a1a1a" stroke-width="1.1"/>
<circle cx="409.2" cy="224.8" r="1.5" fill="#fff" stroke="#2a2a2a" stroke-width="0.95"/>
<circle cx="409.2" cy="232.8" r="1.5" fill="#fff" stroke="#2a2a2a" stroke-width="0.95"/>
<circle cx="409.2" cy="238.7" r="1.5" fill="#fff" stroke="#2a2a2a" stroke-width="0.95"/>
<circle cx="409.2" cy="246.4" r="1.5" fill="#fff" stroke="#2a2a2a" stroke-width="0.95"/>
<circle cx="409.2" cy="249.5" r="1.5" fill="#fff" stroke="#2a2a2a" stroke-width="0.95"/>
<circle cx="409.2" cy="252.0" r="1.5" fill="#fff" stroke="#2a2a2a" stroke-width="0.95"/>
<circle cx="409.2" cy="260.6" r="1.5" fill="#fff" stroke="#2a2a2a" stroke-width="0.95"/>
<circle cx="409.2" cy="268.5" r="1.5" fill="#fff" stroke="#2a2a2a" stroke-width="0.95"/>
<circle cx="430.3" cy="242.8" r="1.5" fill="#fff" stroke="#2a2a2a" stroke-width="0.95"/>
<circle cx="430.3" cy="278.5" r="1.5" fill="#fff" stroke="#2a2a2a" stroke-width="0.95"/>
<circle cx="430.3" cy="281.5" r="1.5" fill="#fff" stroke="#2a2a2a" stroke-width="0.95"/>
<circle cx="430.3" cy="284.3" r="1.5" fill="#fff" stroke="#2a2a2a" stroke-width="0.95"/>
<circle cx="451.6" cy="203.0" r="1.5" fill="#fff" stroke="#2a2a2a" stroke-width="0.95"/>
<circle cx="451.6" cy="240.1" r="1.5" fill="#fff" stroke="#2a2a2a" stroke-width="0.95"/>
<circle cx="451.6" cy="255.7" r="1.5" fill="#fff" stroke="#2a2a2a" stroke-width="0.95"/>
<circle cx="451.6" cy="285.0" r="1.5" fill="#fff" stroke="#2a2a2a" stroke-width="0.95"/>
<circle cx="493.9" cy="231.2" r="1.5" fill="#fff" stroke="#2a2a2a" stroke-width="0.95"/>
<circle cx="493.9" cy="241.1" r="1.5" fill="#fff" stroke="#2a2a2a" stroke-width="0.95"/>
<circle cx="493.9" cy="241.9" r="1.5" fill="#fff" stroke="#2a2a2a" stroke-width="0.95"/>
<circle cx="493.9" cy="247.1" r="1.5" fill="#fff" stroke="#2a2a2a" stroke-width="0.95"/>
<circle cx="493.9" cy="267.3" r="1.5" fill="#fff" stroke="#2a2a2a" stroke-width="0.95"/>
</g>
</svg></body></html>
